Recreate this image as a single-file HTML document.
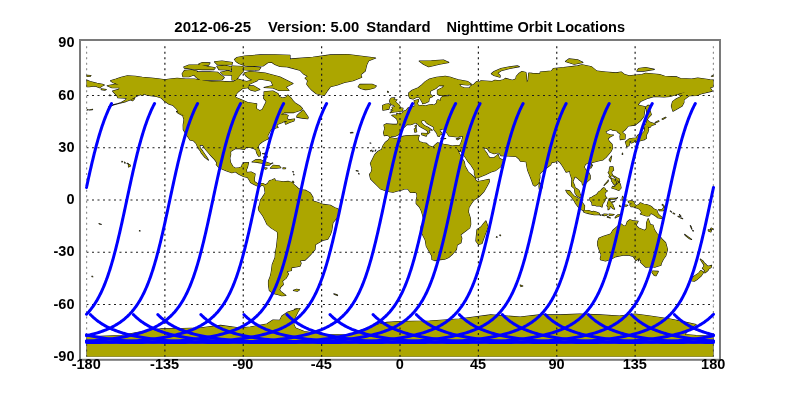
<!DOCTYPE html>
<html><head><meta charset="utf-8"><style>
html,body{margin:0;padding:0;background:#fff;}
svg{display:block;}
text{font-family:"Liberation Sans",sans-serif;font-weight:bold;fill:#000;}
</style></head><body>
<svg width="800" height="400" viewBox="0 0 800 400">
<rect width="800" height="400" fill="#fff"/>
<defs><clipPath id="c"><rect x="86.5" y="43.25" width="627" height="313.5"/></clipPath></defs>
<g clip-path="url(#c)">
<path d="M107.2,85.7 111.9,87.7 119.6,87.7 118.7,89.4 112.6,91.1 117.0,95.8 117.9,97.8 126.6,98.1 125.7,99.9 121.3,102.5 116.1,104.2 113.0,104.9 119.6,103.3 125.7,101.6 130.0,99.9 133.5,97.9 136.1,96.4 140.5,94.6 142.2,95.5 144.0,94.1 147.5,95.2 156.7,96.4 161.4,98.1 164.0,100.7 169.2,104.2 172.7,105.1 177.1,109.4 177.9,112.0 183.2,114.7 182.8,115.7 184.0,119.5 183.2,125.1 183.3,129.6 185.8,133.8 187.7,136.4 190.0,139.9 193.6,140.8 196.1,143.4 198.0,147.8 200.6,151.2 201.3,153.0 204.9,157.3 208.4,160.1 206.8,157.3 205.1,154.7 202.7,151.2 200.1,147.8 199.7,145.0 202.8,145.1 205.6,149.5 208.6,153.0 210.9,155.6 214.7,159.6 216.8,162.6 216.3,164.6 218.3,166.9 221.5,168.7 226.2,170.7 231.9,172.7 235.4,171.8 238.9,174.2 243.6,176.5 247.6,177.4 249.3,180.0 250.6,182.6 253.7,184.3 256.3,185.5 259.8,186.9 261.5,185.2 263.8,185.7 264.5,187.8 265.2,193.0 262.4,197.4 260.5,200.0 259.8,204.4 258.4,207.8 258.9,210.4 262.8,215.7 265.5,220.9 267.1,224.4 271.1,227.9 277.4,231.9 277.7,235.7 277.2,240.9 276.5,247.0 275.5,252.2 275.1,257.5 272.3,264.4 271.6,269.7 271.1,273.1 270.2,276.6 268.5,281.0 268.5,285.3 269.4,290.6 272.9,293.2 276.3,294.1 281.6,295.8 285.9,295.4 280.7,291.4 279.5,289.7 280.7,287.1 283.3,284.5 282.4,281.0 285.9,278.4 288.5,274.0 286.8,271.4 291.5,270.5 291.5,267.6 299.9,266.2 301.1,263.2 299.9,260.8 305.1,260.1 307.7,257.5 311.2,254.0 315.0,249.6 315.5,244.4 323.4,240.1 327.7,239.2 330.3,234.8 331.7,230.5 332.9,222.6 337.3,217.4 339.4,213.9 338.2,209.1 334.7,207.8 330.3,205.2 323.4,204.4 316.4,202.1 312.9,200.9 312.9,197.4 310.3,193.0 305.9,190.4 300.7,189.7 298.1,188.2 294.6,185.2 292.0,182.6 288.5,181.4 283.3,181.7 275.5,180.8 274.6,178.8 272.0,180.0 269.4,180.8 267.6,183.5 265.4,185.0 263.3,183.6 261.5,183.5 258.1,184.0 254.6,181.7 254.2,179.1 255.1,174.0 251.1,172.1 246.7,172.5 246.4,169.5 247.3,167.8 248.5,162.6 244.1,162.9 242.4,164.3 241.5,166.9 238.9,167.8 235.4,168.3 232.8,166.6 230.5,162.6 229.8,158.2 230.7,154.7 230.5,151.6 235.4,148.6 239.8,148.6 244.5,149.5 245.9,147.2 250.2,147.4 252.8,148.1 256.0,149.8 256.7,153.0 258.6,156.1 260.1,155.9 260.5,153.0 258.9,149.5 258.2,146.9 259.1,144.3 262.4,141.7 266.6,139.6 268.5,138.7 267.6,135.9 268.2,134.7 269.5,132.2 271.1,129.5 274.6,128.6 276.3,127.7 278.1,127.4 276.7,126.0 277.7,124.2 282.4,122.5 283.7,121.6 287.7,120.8 285.1,122.5 285.6,124.2 289.4,122.5 293.8,121.1 294.6,119.0 288.5,119.9 286.8,118.1 288.2,115.5 285.1,114.3 280.7,114.7 284.2,112.6 293.8,112.6 300.7,110.3 302.5,108.6 299.9,106.0 295.5,103.3 292.9,100.7 291.1,98.1 287.7,95.0 285.9,97.2 282.4,98.1 279.0,96.4 278.1,93.8 272.9,91.1 264.1,91.7 264.1,94.6 263.6,98.1 266.4,101.6 265.0,104.2 262.4,109.4 259.8,110.7 256.3,108.6 256.7,103.9 247.6,102.5 242.4,100.2 235.8,97.6 235.1,95.5 238.0,92.0 242.4,88.5 247.6,87.7 249.3,84.2 257.2,80.7 256.3,79.0 246.7,81.6 243.2,80.7 238.0,79.0 233.7,81.6 229.3,81.9 220.6,81.2 211.9,81.6 203.2,80.7 194.5,79.0 185.8,79.0 177.1,78.3 170.1,79.0 164.9,79.8 157.9,78.8 150.9,78.1 142.2,77.2 135.3,76.3 127.4,75.8 121.3,77.2 116.1,79.0 110.5,80.7 112.6,82.4 115.2,83.3 118.7,84.7 114.9,84.2ZM326.0,92.9 327.7,90.3 330.3,86.8 337.3,85.0 344.3,82.4 353.0,80.7 361.7,77.2 360.8,74.6 365.2,71.1 366.0,67.6 366.9,64.2 368.6,60.7 375.6,58.1 361.7,56.3 347.8,54.6 330.3,54.9 312.9,57.2 292.0,58.9 283.3,60.7 273.7,63.3 278.1,65.0 290.3,67.6 299.9,70.2 303.3,73.7 307.7,76.3 305.1,78.1 307.7,80.7 306.8,84.2 309.4,87.7 312.0,90.3 316.4,93.8 324.2,95.5ZM255.4,91.1 259.8,89.4 253.7,85.9 248.5,85.9 248.5,88.5 251.1,90.3ZM307.7,118.8 308.2,117.3 305.9,113.8 303.3,110.1 299.9,112.9 297.2,115.5 296.7,117.1 302.5,118.1ZM253.4,161.9 258.9,162.6 263.3,163.4 265.0,165.3 269.4,165.2 270.8,163.8 265.0,161.7 259.8,159.6 255.4,159.9 252.1,162.0ZM270.4,168.1 276.3,168.3 280.9,167.8 279.0,165.7 273.2,165.3ZM263.5,168.3 265.9,169.2 267.1,168.1 263.6,167.8ZM283.0,168.7 285.2,168.7 285.7,168.0 283.0,167.8ZM184.9,115.7 176.5,111.5 177.9,112.9 182.6,115.4ZM386.9,135.2 388.3,135.7 390.2,137.3 392.2,136.1 395.6,136.1 398.3,134.7 399.8,132.9 399.5,131.2 401.2,129.5 403.8,127.7 405.4,126.0 407.0,124.4 410.4,124.8 413.1,123.9 414.8,122.7 416.5,123.2 417.9,124.2 419.5,126.3 422.6,128.1 424.4,128.9 426.1,130.0 427.9,131.2 427.3,133.5 428.0,133.8 429.8,132.2 428.7,131.2 429.6,129.8 432.2,130.3 430.0,128.8 427.9,127.2 424.6,125.8 421.9,123.4 421.4,122.0 421.8,120.4 423.9,120.4 425.3,121.1 426.1,122.5 428.4,124.2 431.9,126.0 434.0,127.2 433.8,129.5 435.2,131.2 436.9,133.3 437.6,135.9 439.2,136.4 440.1,134.7 441.8,134.2 441.8,132.9 439.9,131.2 439.7,129.3 440.9,129.8 442.7,128.8 446.2,129.5 445.6,131.2 447.5,133.8 448.8,135.9 453.1,136.4 458.3,137.0 460.3,136.1 462.7,135.9 462.5,138.2 461.8,140.8 460.8,143.4 459.6,145.7 456.1,145.5 452.2,146.0 447.9,145.1 443.5,144.3 440.1,143.4 437.4,142.9 434.8,145.1 433.1,147.2 428.9,145.7 426.5,143.4 423.0,142.7 419.5,141.7 418.3,139.9 418.5,137.3 419.2,135.6 417.1,135.4 411.3,135.6 406.1,135.9 402.6,136.4 399.1,137.8 395.6,138.7 389.7,137.6 388.5,139.9 385.2,142.5 382.9,146.0 381.7,149.5 378.2,151.2 374.7,154.7 373.0,158.2 370.4,163.4 372.0,168.7 371.3,172.1 369.5,174.4 370.7,179.1 374.2,182.6 376.8,185.2 380.3,188.7 386.9,191.3 393.0,192.2 396.5,191.3 401.7,189.9 404.4,188.9 407.8,189.0 410.4,192.5 414.8,192.3 416.7,193.0 417.1,196.5 416.2,200.0 416.2,203.5 419.5,207.0 421.2,210.4 422.8,215.7 423.9,220.9 421.2,226.1 420.6,230.5 423.5,236.6 425.3,240.1 426.3,246.2 428.7,250.5 431.7,255.7 432.0,259.6 434.8,260.6 440.1,259.6 444.6,259.2 448.6,257.5 452.6,254.0 456.4,249.6 457.1,244.9 461.0,242.7 461.8,238.3 460.6,234.8 465.3,231.3 469.7,227.9 470.7,224.4 470.4,218.3 468.4,212.2 468.8,207.8 471.4,203.5 474.0,200.0 479.2,196.5 484.1,191.3 487.1,186.1 489.3,181.7 489.2,179.4 483.6,180.5 477.5,181.7 475.4,180.0 475.2,178.2 471.4,174.7 468.3,172.1 465.0,166.0 464.3,161.7 462.0,158.2 459.0,153.0 456.6,147.9 459.6,151.6 459.9,151.2 460.8,148.6 461.0,151.2 462.2,153.0 465.3,157.3 468.1,161.7 471.1,165.2 474.4,170.4 474.4,173.9 475.8,177.9 478.4,177.4 485.3,174.7 490.9,172.1 495.8,170.4 500.5,166.9 501.9,164.3 504.2,160.8 499.3,158.2 498.1,154.4 496.7,155.6 494.1,157.7 489.9,157.9 488.0,155.6 486.7,153.0 483.6,149.0 484.5,147.8 487.4,148.6 489.7,152.1 494.1,153.8 497.9,152.8 499.1,153.0 501.0,155.6 508.0,155.9 516.2,156.5 519.1,159.1 520.5,161.2 526.3,161.7 526.4,163.4 526.8,166.0 527.7,170.4 529.8,175.6 531.8,180.8 533.2,184.7 535.0,186.1 537.9,184.0 539.0,182.1 539.9,177.4 539.7,173.9 541.4,172.1 545.4,168.7 550.7,164.8 551.5,162.6 555.0,162.0 557.6,160.6 560.2,162.6 562.0,165.2 564.2,168.7 566.0,172.1 569.8,171.3 570.2,173.9 571.9,179.1 571.6,183.5 571.6,186.1 574.5,188.7 575.0,193.0 576.8,195.6 580.3,197.7 581.5,197.4 580.1,193.9 579.0,190.4 576.8,188.7 575.0,187.8 574.5,185.2 572.8,181.7 574.2,178.2 575.0,176.5 577.6,178.2 579.4,180.0 582.0,182.1 582.5,185.0 585.5,183.5 587.2,181.7 590.2,179.1 590.2,175.6 588.4,172.1 585.5,169.5 584.1,166.9 585.5,164.3 588.6,162.6 591.8,164.6 591.2,162.7 594.2,162.0 598.9,160.8 602.9,159.9 606.0,157.3 608.3,154.7 611.1,151.2 612.7,147.8 612.3,146.4 612.1,144.3 609.5,141.7 607.8,139.0 609.5,137.3 613.5,135.0 610.2,134.7 606.9,133.8 605.5,131.7 610.7,128.9 612.5,130.3 616.8,130.7 617.7,132.1 620.5,134.3 620.0,136.4 620.3,139.6 625.0,139.0 625.2,134.7 622.1,132.1 625.5,129.5 628.2,126.0 635.1,125.1 640.4,120.8 643.8,116.4 644.7,110.3 645.1,106.8 637.7,105.1 640.4,101.6 648.2,98.1 654.3,96.4 663.9,96.9 670.0,96.4 678.7,93.8 685.6,92.0 678.7,94.6 681.3,96.4 676.1,99.0 672.6,101.6 671.4,106.0 672.9,111.2 676.1,109.4 682.1,106.0 683.9,102.5 683.9,99.9 689.1,95.8 696.6,95.5 701.3,93.8 712.3,91.1 710.0,87.7 713.5,86.8 713.5,80.0 710.0,79.8 697.8,78.1 691.7,79.0 680.4,78.6 676.9,76.9 664.7,76.3 659.5,74.6 645.6,73.2 642.1,74.6 629.0,75.8 624.7,74.6 621.2,72.0 616.0,72.9 605.5,72.0 596.8,71.1 591.6,66.8 582.0,64.7 577.6,65.9 563.7,67.6 553.3,68.5 551.5,71.1 540.2,72.0 540.2,73.7 532.4,73.4 528.7,73.0 528.4,77.2 528.2,80.2 526.8,82.4 526.4,75.5 525.9,72.5 521.9,71.5 519.3,73.2 516.3,76.3 515.8,79.0 512.3,80.3 505.4,78.4 503.6,79.8 499.3,80.7 494.9,80.2 492.3,81.6 481.0,80.7 479.2,82.3 476.6,81.6 474.0,84.2 470.5,85.9 469.7,88.0 464.1,87.7 461.0,86.8 459.2,84.2 467.9,85.0 471.4,84.2 467.9,81.6 458.3,79.8 454.0,78.4 450.5,77.2 445.3,76.3 436.6,77.2 429.6,79.0 425.3,81.6 421.8,85.0 418.3,87.7 412.2,90.3 408.7,92.9 408.7,95.5 409.8,98.1 413.1,99.0 416.5,97.2 419.2,97.2 420.4,99.3 422.1,101.9 422.6,103.5 424.9,103.3 428.7,101.6 429.3,98.1 432.7,96.4 430.0,93.8 430.5,91.1 435.7,88.5 439.2,85.4 444.4,85.6 442.3,87.7 437.4,90.3 437.4,94.1 440.1,95.5 445.3,95.2 449.6,94.6 448.8,96.2 442.7,96.4 440.9,98.1 440.6,100.7 438.0,99.7 436.9,100.7 436.7,103.0 434.0,105.3 432.2,104.6 428.7,105.1 425.3,106.0 422.6,105.3 419.2,106.0 418.3,105.1 417.1,103.2 418.3,101.6 418.5,99.5 414.1,100.7 415.0,104.2 415.2,106.0 412.2,107.0 408.4,107.7 406.1,110.3 403.5,111.2 402.6,112.9 399.1,114.0 396.7,113.4 397.4,115.4 394.8,115.0 391.8,115.4 394.8,117.3 396.9,119.0 397.9,122.5 396.9,124.4 393.0,124.4 386.1,123.9 384.0,125.1 384.8,128.6 383.5,132.6 384.3,135.6ZM86.5,86.8 89.1,86.8 95.2,85.9 99.6,87.7 102.2,85.9 104.3,85.0 102.2,84.2 96.9,83.3 90.0,81.6 86.5,80.0ZM390.1,112.7 393.9,111.9 398.3,111.5 402.4,111.0 402.6,109.8 403.0,108.2 400.5,107.7 399.1,105.1 396.5,102.8 395.3,101.6 396.9,99.7 393.4,99.5 394.8,97.9 391.3,98.1 389.9,99.9 389.6,101.6 390.4,103.3 391.3,104.6 393.9,105.1 394.8,106.8 392.0,107.2 392.9,108.9 390.9,110.0 393.9,110.3 392.5,110.8ZM382.9,110.3 388.9,109.1 389.4,106.8 390.4,105.3 388.7,103.7 385.5,104.2 382.6,105.6 382.6,107.7ZM368.6,89.4 374.7,87.7 376.3,85.9 372.1,84.2 359.9,84.4 358.2,86.8 360.8,88.5 365.2,89.6ZM439.2,64.2 448.8,62.4 443.5,60.1 431.4,60.7 419.2,61.0 423.5,64.2 428.7,66.8ZM500.1,75.5 497.5,73.2 501.0,70.8 509.7,68.5 519.3,66.6 517.6,65.9 509.7,66.8 501.0,68.5 494.1,71.5 491.4,73.7 494.1,75.5 500.1,77.2ZM582.9,62.4 577.6,59.8 568.9,58.9 565.5,61.5 574.2,64.2ZM643.8,71.1 654.3,69.4 645.6,67.6 638.6,68.5 636.9,71.1ZM647.0,119.9 648.7,117.3 651.3,114.7 649.9,110.3 649.4,105.4 647.7,105.4 645.6,107.2 646.4,109.4 647.0,116.4ZM644.4,127.6 646.2,126.0 649.9,127.4 651.6,125.4 655.5,124.3 653.1,123.2 649.4,121.9 647.0,119.7 646.6,122.1 645.7,124.7 643.8,124.7 642.5,126.9 643.1,128.7ZM627.8,141.9 630.7,141.0 633.2,140.4 634.5,141.2 636.0,142.7 636.4,141.0 638.5,141.2 641.0,140.4 642.2,140.2 644.5,139.6 646.4,138.3 646.2,136.2 646.8,133.9 647.9,132.1 648.7,129.1 647.9,127.0 646.8,126.0 645.4,126.6 644.7,128.7 644.3,131.4 642.4,133.3 641.2,135.4 639.3,135.8 639.1,134.6 637.8,135.2 636.8,136.9 636.0,138.1 633.2,138.3 629.5,138.7 627.2,140.4 625.7,141.7ZM626.6,146.6 628.9,145.7 629.7,143.4 629.5,141.3 628.3,140.5 627.0,141.1 625.4,142.0 625.8,143.2 626.6,145.5ZM609.2,159.9 610.4,161.7 611.6,156.1ZM589.1,166.9 590.7,168.1 592.5,165.2ZM609.4,168.8 609.2,171.4 608.2,172.4 609.6,174.8 610.0,176.4 611.8,175.6 613.6,176.4 614.6,177.6 616.8,178.8 615.8,177.0 613.0,175.8 611.6,173.4 611.8,171.6 613.6,170.0 613.0,166.9 610.0,166.7ZM617.4,184.0 615.6,185.6 615.0,187.0 612.6,186.4 611.8,188.0 616.0,189.2 618.9,190.4 621.1,188.0 620.3,184.0 618.9,182.4ZM607.3,181.7 605.3,183.8 604.1,185.4 608.0,181.7 608.3,180.1ZM603.6,187.8 602.4,188.7 600.8,190.6 598.5,192.0 596.8,194.4 593.8,196.0 591.9,197.2 589.8,197.9 590.0,200.3 591.8,202.3 592.1,205.1 594.7,205.2 596.8,205.9 599.4,205.7 602.0,207.1 602.4,205.1 602.9,203.3 604.5,201.4 605.5,198.3 606.9,198.1 605.3,196.2 604.8,194.1 605.3,192.5 607.4,190.9 605.5,189.9 604.8,188.2ZM566.9,192.3 568.6,194.4 571.2,196.5 572.8,199.0 574.5,201.2 575.6,203.5 577.6,206.1 579.7,208.4 582.2,210.1 584.3,210.3 584.6,205.9 583.2,203.7 581.8,201.7 579.7,199.1 576.6,197.2 574.3,196.3 571.9,193.6 569.8,190.9 565.8,190.2ZM583.4,211.8 585.5,212.7 589.0,213.6 594.2,214.8 599.2,214.5 599.2,213.2 596.1,212.0 593.3,211.3 592.5,212.0 588.6,210.6 584.6,210.3ZM616.3,198.4 614.2,198.3 610.9,198.3 609.2,198.6 608.7,200.0 607.8,202.6 607.3,204.7 606.9,205.6 608.1,207.0 608.1,209.8 609.7,208.5 609.9,205.9 611.6,207.0 612.5,208.5 614.6,209.1 613.5,206.8 612.8,204.7 611.4,203.1 612.0,201.7 614.7,201.6 611.6,202.6 610.2,201.6 609.0,200.0 609.3,199.1 613.4,199.1 616.7,198.4 617.5,197.6ZM628.5,202.4 629.7,203.1 632.5,204.0 629.9,204.5 630.2,205.7 631.3,206.8 632.7,206.6 635.1,207.5 638.3,208.4 640.7,210.4 641.7,212.9 640.4,213.9 642.1,214.6 645.6,215.7 647.3,216.0 649.6,215.8 649.9,213.9 651.7,213.6 654.5,215.2 656.4,216.5 657.8,217.8 661.2,218.5 662.6,217.9 660.0,215.8 658.1,213.9 657.4,212.0 656.9,210.3 653.9,209.1 651.8,207.0 649.9,205.7 646.4,204.5 643.8,204.2 640.2,202.8 639.1,204.4 636.0,205.7 634.3,203.8 633.6,201.6 630.8,200.7 628.2,201.4ZM621.7,214.5 617.7,214.8 616.0,216.5 615.1,217.9 616.8,217.1 619.5,215.7ZM539.0,186.1 539.3,189.2 541.4,189.6 542.5,186.1 539.7,182.9ZM483.6,223.5 481.0,227.0 477.0,229.6 476.3,236.6 475.9,240.9 478.4,244.4 481.9,243.5 485.0,234.8 488.0,227.0 485.9,220.9ZM421.8,134.7 426.3,136.1 427.2,133.5 421.6,133.3ZM414.3,128.9 414.8,132.2 416.7,131.7 416.0,128.2ZM415.0,126.0 416.0,127.9 416.4,125.1ZM442.7,139.0 445.8,138.5 440.9,138.2ZM456.3,138.9 457.5,139.7 460.3,138.0ZM646.6,222.6 646.4,228.7 644.7,230.5 638.6,227.9 636.0,225.3 638.1,221.2 633.4,220.9 629.9,219.7 627.3,221.8 625.9,225.8 623.8,226.1 621.2,224.0 618.6,225.3 615.1,228.4 612.8,230.5 610.7,234.0 602.9,236.6 598.9,238.3 597.7,241.8 597.7,245.3 599.1,249.6 601.2,254.9 600.3,258.3 600.5,259.7 605.5,261.0 610.7,259.2 616.0,256.6 622.9,255.2 628.2,254.9 633.4,256.6 636.0,260.6 640.0,257.5 638.3,261.0 639.5,259.2 641.2,261.0 640.4,262.2 643.8,265.3 645.6,267.1 652.0,266.7 655.2,267.1 660.9,265.3 661.2,263.6 663.3,259.2 665.8,255.7 667.5,249.6 666.6,246.2 665.6,242.7 662.1,239.2 660.0,236.6 656.9,233.6 654.3,229.6 653.1,225.3 650.3,224.4 648.2,218.6ZM652.0,272.3 654.3,275.4 656.0,275.8 658.3,271.4 652.5,271.1ZM701.4,260.9 702.8,263.1 703.8,264.6 704.0,266.6 702.4,268.1 703.4,269.3 704.9,270.5 704.0,272.6 705.1,272.8 707.9,270.5 708.8,268.9 711.0,267.5 711.6,265.4 708.6,266.2 706.9,265.6 705.7,264.2 704.3,262.9 702.6,260.7 700.3,259.1ZM698.7,273.1 692.3,277.5 690.0,280.5 694.3,281.2 697.5,279.2 701.3,275.8 703.6,272.3 700.8,270.5ZM713.5,356.8 713.5,336.4 696.1,335.5 684.8,334.6 689.1,328.9 696.1,324.5 683.9,321.9 670.0,319.0 649.9,316.0 635.1,314.1 619.5,316.0 600.3,314.9 579.4,314.1 560.2,314.9 539.3,314.9 520.2,317.0 490.6,314.9 459.2,319.0 429.6,321.0 400.0,321.6 386.9,322.4 374.9,325.1 362.0,329.9 350.0,335.0 325.1,334.5 304.2,331.5 295.5,328.0 293.8,324.5 294.6,318.4 298.1,311.5 300.0,308.5 288.0,312.0 281.9,316.0 279.8,320.2 273.0,320.0 266.9,324.0 250.2,327.0 239.8,328.0 220.6,325.4 199.7,328.0 182.3,328.5 161.4,328.9 142.2,331.5 121.3,335.5 86.5,336.9 86.5,356.8ZM599.4,214.6 600.6,215.3 599.6,214.1ZM602.0,215.2 602.9,215.5 602.2,214.5ZM604.1,215.8 606.7,215.3 607.3,214.3 603.8,214.1ZM609.3,215.5 612.5,215.3 614.1,214.5 609.0,214.1ZM607.3,217.1 610.4,217.9 607.6,216.5ZM623.8,205.9 626.4,206.1 627.8,205.2 622.9,204.9ZM619.5,206.3 621.0,206.8 619.5,205.4ZM622.1,198.3 623.3,201.4 624.0,199.1 622.6,196.2ZM609.0,176.6 610.8,178.7 611.9,179.3 609.6,175.7ZM617.3,180.3 619.7,181.8 619.1,178.8 615.2,177.3ZM616.1,179.6 617.2,182.9 618.4,183.5 616.7,179.1ZM611.7,181.4 613.5,182.5 615.3,179.6 612.0,178.7ZM612.7,182.6 614.5,185.2 615.4,182.6 614.2,179.9ZM614.2,183.4 616.3,184.0 616.3,179.3ZM631.5,142.9 633.7,142.0 634.6,141.1 634.4,140.3 631.5,141.0 630.8,142.5ZM662.1,209.6 658.6,209.6 659.5,210.8 663.0,210.8 665.1,209.1 663.9,207.3ZM662.1,204.9 664.7,207.3 665.8,207.8 662.6,204.4ZM678.3,216.7 680.1,217.1 678.0,216.2ZM680.1,215.7 680.9,216.2 679.5,214.5ZM670.3,211.0 671.7,212.2 670.8,211.3ZM673.1,213.4 674.8,213.9 673.4,213.1ZM680.9,218.3 682.7,218.8 681.5,218.1ZM690.3,225.7 691.9,229.2 691.2,226.9ZM692.6,230.7 693.5,231.0 692.9,230.5ZM685.5,235.6 689.6,238.8 691.6,239.5 684.7,234.4ZM708.5,231.1 710.8,232.0 711.5,230.4 708.2,229.9ZM710.5,229.0 713.8,229.4 711.2,228.0ZM128.5,164.8 128.5,166.9 130.4,166.0 129.7,164.6ZM127.1,163.4 128.3,164.1 128.3,163.6ZM124.5,162.9 125.3,162.9 124.5,162.2ZM121.9,161.9 122.6,161.7 121.9,161.3ZM92.6,109.3 89.1,110.0 92.1,109.8ZM111.2,105.8 108.8,106.6 110.9,106.1 113.5,104.9ZM87.4,109.6 86.7,110.1 88.2,109.8ZM101.7,89.8 104.8,90.3 106.2,89.6 101.0,88.9ZM109.8,95.8 111.1,95.5 109.5,95.0ZM133.0,99.0 130.7,100.0 132.7,100.7 134.6,98.6ZM263.6,157.7 265.0,158.2 264.1,156.5ZM262.6,153.7 264.5,153.8 262.8,153.5ZM264.8,154.2 265.5,154.7 265.0,153.1ZM266.8,156.3 267.5,157.0 266.4,155.6ZM271.8,163.3 271.6,163.6 272.7,163.1ZM292.7,171.6 293.2,172.1 293.4,171.8ZM293.6,174.2 293.8,174.9 294.1,174.6ZM292.2,182.4 293.8,182.4 292.9,181.2ZM370.6,150.5 370.9,151.2 371.8,150.2ZM372.5,151.2 372.8,151.6 373.2,150.9ZM375.8,150.0 375.1,151.1 375.6,150.5ZM370.0,143.0 370.9,143.2 370.2,142.9ZM352.3,132.4 350.4,132.9 353.0,132.8ZM356.1,170.7 358.2,171.1 356.5,170.6ZM358.5,173.7 359.2,174.0 358.7,173.4ZM293.4,290.4 297.2,291.3 299.5,289.7 296.4,289.2ZM334.7,294.6 337.6,295.6 337.3,294.9 333.8,293.9ZM521.0,286.6 522.8,285.9 520.2,285.0ZM499.8,235.5 500.7,235.7 500.1,234.8ZM496.3,237.3 497.2,237.1 496.7,236.6ZM99.4,224.0 101.3,224.4 99.0,223.5ZM139.4,231.0 140.1,231.0 139.6,230.5ZM91.9,276.6 92.9,276.8 92.1,276.1ZM298.1,309.0 296.9,308.5 294.1,309.4ZM183.0,76.8 189.0,76.8 195.0,74.5 197.2,71.1 191.2,70.0 184.5,70.4 182.2,73.8ZM196.5,77.5 201.0,80.5 211.5,80.1 222.0,79.8 224.2,77.5 217.5,72.2 210.0,71.9 197.2,71.9 192.8,73.8ZM184.5,68.1 195.0,69.2 202.5,69.6 213.8,69.6 215.2,67.8 206.2,66.2 198.8,64.8 189.0,65.1 183.8,67.0ZM201.0,65.5 208.5,65.1 210.0,62.9 202.5,62.5 198.8,64.0ZM217.5,64.8 231.8,64.8 232.5,62.5 222.0,61.0 214.5,61.8ZM219.0,69.6 231.0,70.0 231.8,67.0 225.0,65.5 216.8,66.2ZM223.5,74.9 232.5,75.2 232.5,72.2 228.0,70.8 220.5,72.2ZM236.0,61.5 239.0,63.5 245.0,65.7 252.0,66.0 263.0,66.0 268.0,62.5 275.0,62.0 290.0,60.5 290.0,55.2 275.0,54.8 260.0,54.9 245.0,56.0 237.0,57.5 234.5,59.5ZM232.0,80.0 236.0,80.0 240.0,75.0 243.5,71.0 243.0,66.5 232.0,66.0ZM275.0,64.5 280.0,66.5 290.0,67.0 290.0,60.0 280.0,61.0 272.0,62.5ZM244.0,69.8 250.0,70.2 259.0,70.0 260.8,67.5 252.0,66.8 243.5,67.2ZM246.0,76.0 250.0,79.0 255.0,81.0 260.0,79.0 271.0,81.0 273.0,85.5 264.0,87.5 273.0,88.0 279.0,90.5 289.0,90.5 286.0,87.0 293.0,83.5 280.0,77.0 265.0,73.0 250.0,71.5 244.0,73.0ZM655.7,122.8 659.0,121.3 658.6,120.8 655.2,122.5ZM662.6,119.4 666.0,117.6 665.6,117.3 662.1,119.0ZM622.4,153.1 622.2,154.5 622.8,154.0ZM86.5,76.5 90.3,76.3 90.9,75.5 86.5,75.3ZM711.4,76.2 713.5,76.5 713.5,75.3ZM387.8,92.4 388.5,92.0 387.5,91.3Z" fill="none" stroke="#111" stroke-width="1.1" stroke-linejoin="round"/>
<path d="M107.2,85.7 111.9,87.7 119.6,87.7 118.7,89.4 112.6,91.1 117.0,95.8 117.9,97.8 126.6,98.1 125.7,99.9 121.3,102.5 116.1,104.2 113.0,104.9 119.6,103.3 125.7,101.6 130.0,99.9 133.5,97.9 136.1,96.4 140.5,94.6 142.2,95.5 144.0,94.1 147.5,95.2 156.7,96.4 161.4,98.1 164.0,100.7 169.2,104.2 172.7,105.1 177.1,109.4 177.9,112.0 183.2,114.7 182.8,115.7 184.0,119.5 183.2,125.1 183.3,129.6 185.8,133.8 187.7,136.4 190.0,139.9 193.6,140.8 196.1,143.4 198.0,147.8 200.6,151.2 201.3,153.0 204.9,157.3 208.4,160.1 206.8,157.3 205.1,154.7 202.7,151.2 200.1,147.8 199.7,145.0 202.8,145.1 205.6,149.5 208.6,153.0 210.9,155.6 214.7,159.6 216.8,162.6 216.3,164.6 218.3,166.9 221.5,168.7 226.2,170.7 231.9,172.7 235.4,171.8 238.9,174.2 243.6,176.5 247.6,177.4 249.3,180.0 250.6,182.6 253.7,184.3 256.3,185.5 259.8,186.9 261.5,185.2 263.8,185.7 264.5,187.8 265.2,193.0 262.4,197.4 260.5,200.0 259.8,204.4 258.4,207.8 258.9,210.4 262.8,215.7 265.5,220.9 267.1,224.4 271.1,227.9 277.4,231.9 277.7,235.7 277.2,240.9 276.5,247.0 275.5,252.2 275.1,257.5 272.3,264.4 271.6,269.7 271.1,273.1 270.2,276.6 268.5,281.0 268.5,285.3 269.4,290.6 272.9,293.2 276.3,294.1 281.6,295.8 285.9,295.4 280.7,291.4 279.5,289.7 280.7,287.1 283.3,284.5 282.4,281.0 285.9,278.4 288.5,274.0 286.8,271.4 291.5,270.5 291.5,267.6 299.9,266.2 301.1,263.2 299.9,260.8 305.1,260.1 307.7,257.5 311.2,254.0 315.0,249.6 315.5,244.4 323.4,240.1 327.7,239.2 330.3,234.8 331.7,230.5 332.9,222.6 337.3,217.4 339.4,213.9 338.2,209.1 334.7,207.8 330.3,205.2 323.4,204.4 316.4,202.1 312.9,200.9 312.9,197.4 310.3,193.0 305.9,190.4 300.7,189.7 298.1,188.2 294.6,185.2 292.0,182.6 288.5,181.4 283.3,181.7 275.5,180.8 274.6,178.8 272.0,180.0 269.4,180.8 267.6,183.5 265.4,185.0 263.3,183.6 261.5,183.5 258.1,184.0 254.6,181.7 254.2,179.1 255.1,174.0 251.1,172.1 246.7,172.5 246.4,169.5 247.3,167.8 248.5,162.6 244.1,162.9 242.4,164.3 241.5,166.9 238.9,167.8 235.4,168.3 232.8,166.6 230.5,162.6 229.8,158.2 230.7,154.7 230.5,151.6 235.4,148.6 239.8,148.6 244.5,149.5 245.9,147.2 250.2,147.4 252.8,148.1 256.0,149.8 256.7,153.0 258.6,156.1 260.1,155.9 260.5,153.0 258.9,149.5 258.2,146.9 259.1,144.3 262.4,141.7 266.6,139.6 268.5,138.7 267.6,135.9 268.2,134.7 269.5,132.2 271.1,129.5 274.6,128.6 276.3,127.7 278.1,127.4 276.7,126.0 277.7,124.2 282.4,122.5 283.7,121.6 287.7,120.8 285.1,122.5 285.6,124.2 289.4,122.5 293.8,121.1 294.6,119.0 288.5,119.9 286.8,118.1 288.2,115.5 285.1,114.3 280.7,114.7 284.2,112.6 293.8,112.6 300.7,110.3 302.5,108.6 299.9,106.0 295.5,103.3 292.9,100.7 291.1,98.1 287.7,95.0 285.9,97.2 282.4,98.1 279.0,96.4 278.1,93.8 272.9,91.1 264.1,91.7 264.1,94.6 263.6,98.1 266.4,101.6 265.0,104.2 262.4,109.4 259.8,110.7 256.3,108.6 256.7,103.9 247.6,102.5 242.4,100.2 235.8,97.6 235.1,95.5 238.0,92.0 242.4,88.5 247.6,87.7 249.3,84.2 257.2,80.7 256.3,79.0 246.7,81.6 243.2,80.7 238.0,79.0 233.7,81.6 229.3,81.9 220.6,81.2 211.9,81.6 203.2,80.7 194.5,79.0 185.8,79.0 177.1,78.3 170.1,79.0 164.9,79.8 157.9,78.8 150.9,78.1 142.2,77.2 135.3,76.3 127.4,75.8 121.3,77.2 116.1,79.0 110.5,80.7 112.6,82.4 115.2,83.3 118.7,84.7 114.9,84.2ZM326.0,92.9 327.7,90.3 330.3,86.8 337.3,85.0 344.3,82.4 353.0,80.7 361.7,77.2 360.8,74.6 365.2,71.1 366.0,67.6 366.9,64.2 368.6,60.7 375.6,58.1 361.7,56.3 347.8,54.6 330.3,54.9 312.9,57.2 292.0,58.9 283.3,60.7 273.7,63.3 278.1,65.0 290.3,67.6 299.9,70.2 303.3,73.7 307.7,76.3 305.1,78.1 307.7,80.7 306.8,84.2 309.4,87.7 312.0,90.3 316.4,93.8 324.2,95.5ZM255.4,91.1 259.8,89.4 253.7,85.9 248.5,85.9 248.5,88.5 251.1,90.3ZM307.7,118.8 308.2,117.3 305.9,113.8 303.3,110.1 299.9,112.9 297.2,115.5 296.7,117.1 302.5,118.1ZM253.4,161.9 258.9,162.6 263.3,163.4 265.0,165.3 269.4,165.2 270.8,163.8 265.0,161.7 259.8,159.6 255.4,159.9 252.1,162.0ZM270.4,168.1 276.3,168.3 280.9,167.8 279.0,165.7 273.2,165.3ZM263.5,168.3 265.9,169.2 267.1,168.1 263.6,167.8ZM283.0,168.7 285.2,168.7 285.7,168.0 283.0,167.8ZM184.9,115.7 176.5,111.5 177.9,112.9 182.6,115.4ZM386.9,135.2 388.3,135.7 390.2,137.3 392.2,136.1 395.6,136.1 398.3,134.7 399.8,132.9 399.5,131.2 401.2,129.5 403.8,127.7 405.4,126.0 407.0,124.4 410.4,124.8 413.1,123.9 414.8,122.7 416.5,123.2 417.9,124.2 419.5,126.3 422.6,128.1 424.4,128.9 426.1,130.0 427.9,131.2 427.3,133.5 428.0,133.8 429.8,132.2 428.7,131.2 429.6,129.8 432.2,130.3 430.0,128.8 427.9,127.2 424.6,125.8 421.9,123.4 421.4,122.0 421.8,120.4 423.9,120.4 425.3,121.1 426.1,122.5 428.4,124.2 431.9,126.0 434.0,127.2 433.8,129.5 435.2,131.2 436.9,133.3 437.6,135.9 439.2,136.4 440.1,134.7 441.8,134.2 441.8,132.9 439.9,131.2 439.7,129.3 440.9,129.8 442.7,128.8 446.2,129.5 445.6,131.2 447.5,133.8 448.8,135.9 453.1,136.4 458.3,137.0 460.3,136.1 462.7,135.9 462.5,138.2 461.8,140.8 460.8,143.4 459.6,145.7 456.1,145.5 452.2,146.0 447.9,145.1 443.5,144.3 440.1,143.4 437.4,142.9 434.8,145.1 433.1,147.2 428.9,145.7 426.5,143.4 423.0,142.7 419.5,141.7 418.3,139.9 418.5,137.3 419.2,135.6 417.1,135.4 411.3,135.6 406.1,135.9 402.6,136.4 399.1,137.8 395.6,138.7 389.7,137.6 388.5,139.9 385.2,142.5 382.9,146.0 381.7,149.5 378.2,151.2 374.7,154.7 373.0,158.2 370.4,163.4 372.0,168.7 371.3,172.1 369.5,174.4 370.7,179.1 374.2,182.6 376.8,185.2 380.3,188.7 386.9,191.3 393.0,192.2 396.5,191.3 401.7,189.9 404.4,188.9 407.8,189.0 410.4,192.5 414.8,192.3 416.7,193.0 417.1,196.5 416.2,200.0 416.2,203.5 419.5,207.0 421.2,210.4 422.8,215.7 423.9,220.9 421.2,226.1 420.6,230.5 423.5,236.6 425.3,240.1 426.3,246.2 428.7,250.5 431.7,255.7 432.0,259.6 434.8,260.6 440.1,259.6 444.6,259.2 448.6,257.5 452.6,254.0 456.4,249.6 457.1,244.9 461.0,242.7 461.8,238.3 460.6,234.8 465.3,231.3 469.7,227.9 470.7,224.4 470.4,218.3 468.4,212.2 468.8,207.8 471.4,203.5 474.0,200.0 479.2,196.5 484.1,191.3 487.1,186.1 489.3,181.7 489.2,179.4 483.6,180.5 477.5,181.7 475.4,180.0 475.2,178.2 471.4,174.7 468.3,172.1 465.0,166.0 464.3,161.7 462.0,158.2 459.0,153.0 456.6,147.9 459.6,151.6 459.9,151.2 460.8,148.6 461.0,151.2 462.2,153.0 465.3,157.3 468.1,161.7 471.1,165.2 474.4,170.4 474.4,173.9 475.8,177.9 478.4,177.4 485.3,174.7 490.9,172.1 495.8,170.4 500.5,166.9 501.9,164.3 504.2,160.8 499.3,158.2 498.1,154.4 496.7,155.6 494.1,157.7 489.9,157.9 488.0,155.6 486.7,153.0 483.6,149.0 484.5,147.8 487.4,148.6 489.7,152.1 494.1,153.8 497.9,152.8 499.1,153.0 501.0,155.6 508.0,155.9 516.2,156.5 519.1,159.1 520.5,161.2 526.3,161.7 526.4,163.4 526.8,166.0 527.7,170.4 529.8,175.6 531.8,180.8 533.2,184.7 535.0,186.1 537.9,184.0 539.0,182.1 539.9,177.4 539.7,173.9 541.4,172.1 545.4,168.7 550.7,164.8 551.5,162.6 555.0,162.0 557.6,160.6 560.2,162.6 562.0,165.2 564.2,168.7 566.0,172.1 569.8,171.3 570.2,173.9 571.9,179.1 571.6,183.5 571.6,186.1 574.5,188.7 575.0,193.0 576.8,195.6 580.3,197.7 581.5,197.4 580.1,193.9 579.0,190.4 576.8,188.7 575.0,187.8 574.5,185.2 572.8,181.7 574.2,178.2 575.0,176.5 577.6,178.2 579.4,180.0 582.0,182.1 582.5,185.0 585.5,183.5 587.2,181.7 590.2,179.1 590.2,175.6 588.4,172.1 585.5,169.5 584.1,166.9 585.5,164.3 588.6,162.6 591.8,164.6 591.2,162.7 594.2,162.0 598.9,160.8 602.9,159.9 606.0,157.3 608.3,154.7 611.1,151.2 612.7,147.8 612.3,146.4 612.1,144.3 609.5,141.7 607.8,139.0 609.5,137.3 613.5,135.0 610.2,134.7 606.9,133.8 605.5,131.7 610.7,128.9 612.5,130.3 616.8,130.7 617.7,132.1 620.5,134.3 620.0,136.4 620.3,139.6 625.0,139.0 625.2,134.7 622.1,132.1 625.5,129.5 628.2,126.0 635.1,125.1 640.4,120.8 643.8,116.4 644.7,110.3 645.1,106.8 637.7,105.1 640.4,101.6 648.2,98.1 654.3,96.4 663.9,96.9 670.0,96.4 678.7,93.8 685.6,92.0 678.7,94.6 681.3,96.4 676.1,99.0 672.6,101.6 671.4,106.0 672.9,111.2 676.1,109.4 682.1,106.0 683.9,102.5 683.9,99.9 689.1,95.8 696.6,95.5 701.3,93.8 712.3,91.1 710.0,87.7 713.5,86.8 713.5,80.0 710.0,79.8 697.8,78.1 691.7,79.0 680.4,78.6 676.9,76.9 664.7,76.3 659.5,74.6 645.6,73.2 642.1,74.6 629.0,75.8 624.7,74.6 621.2,72.0 616.0,72.9 605.5,72.0 596.8,71.1 591.6,66.8 582.0,64.7 577.6,65.9 563.7,67.6 553.3,68.5 551.5,71.1 540.2,72.0 540.2,73.7 532.4,73.4 528.7,73.0 528.4,77.2 528.2,80.2 526.8,82.4 526.4,75.5 525.9,72.5 521.9,71.5 519.3,73.2 516.3,76.3 515.8,79.0 512.3,80.3 505.4,78.4 503.6,79.8 499.3,80.7 494.9,80.2 492.3,81.6 481.0,80.7 479.2,82.3 476.6,81.6 474.0,84.2 470.5,85.9 469.7,88.0 464.1,87.7 461.0,86.8 459.2,84.2 467.9,85.0 471.4,84.2 467.9,81.6 458.3,79.8 454.0,78.4 450.5,77.2 445.3,76.3 436.6,77.2 429.6,79.0 425.3,81.6 421.8,85.0 418.3,87.7 412.2,90.3 408.7,92.9 408.7,95.5 409.8,98.1 413.1,99.0 416.5,97.2 419.2,97.2 420.4,99.3 422.1,101.9 422.6,103.5 424.9,103.3 428.7,101.6 429.3,98.1 432.7,96.4 430.0,93.8 430.5,91.1 435.7,88.5 439.2,85.4 444.4,85.6 442.3,87.7 437.4,90.3 437.4,94.1 440.1,95.5 445.3,95.2 449.6,94.6 448.8,96.2 442.7,96.4 440.9,98.1 440.6,100.7 438.0,99.7 436.9,100.7 436.7,103.0 434.0,105.3 432.2,104.6 428.7,105.1 425.3,106.0 422.6,105.3 419.2,106.0 418.3,105.1 417.1,103.2 418.3,101.6 418.5,99.5 414.1,100.7 415.0,104.2 415.2,106.0 412.2,107.0 408.4,107.7 406.1,110.3 403.5,111.2 402.6,112.9 399.1,114.0 396.7,113.4 397.4,115.4 394.8,115.0 391.8,115.4 394.8,117.3 396.9,119.0 397.9,122.5 396.9,124.4 393.0,124.4 386.1,123.9 384.0,125.1 384.8,128.6 383.5,132.6 384.3,135.6ZM86.5,86.8 89.1,86.8 95.2,85.9 99.6,87.7 102.2,85.9 104.3,85.0 102.2,84.2 96.9,83.3 90.0,81.6 86.5,80.0ZM390.1,112.7 393.9,111.9 398.3,111.5 402.4,111.0 402.6,109.8 403.0,108.2 400.5,107.7 399.1,105.1 396.5,102.8 395.3,101.6 396.9,99.7 393.4,99.5 394.8,97.9 391.3,98.1 389.9,99.9 389.6,101.6 390.4,103.3 391.3,104.6 393.9,105.1 394.8,106.8 392.0,107.2 392.9,108.9 390.9,110.0 393.9,110.3 392.5,110.8ZM382.9,110.3 388.9,109.1 389.4,106.8 390.4,105.3 388.7,103.7 385.5,104.2 382.6,105.6 382.6,107.7ZM368.6,89.4 374.7,87.7 376.3,85.9 372.1,84.2 359.9,84.4 358.2,86.8 360.8,88.5 365.2,89.6ZM439.2,64.2 448.8,62.4 443.5,60.1 431.4,60.7 419.2,61.0 423.5,64.2 428.7,66.8ZM500.1,75.5 497.5,73.2 501.0,70.8 509.7,68.5 519.3,66.6 517.6,65.9 509.7,66.8 501.0,68.5 494.1,71.5 491.4,73.7 494.1,75.5 500.1,77.2ZM582.9,62.4 577.6,59.8 568.9,58.9 565.5,61.5 574.2,64.2ZM643.8,71.1 654.3,69.4 645.6,67.6 638.6,68.5 636.9,71.1ZM647.0,119.9 648.7,117.3 651.3,114.7 649.9,110.3 649.4,105.4 647.7,105.4 645.6,107.2 646.4,109.4 647.0,116.4ZM644.4,127.6 646.2,126.0 649.9,127.4 651.6,125.4 655.5,124.3 653.1,123.2 649.4,121.9 647.0,119.7 646.6,122.1 645.7,124.7 643.8,124.7 642.5,126.9 643.1,128.7ZM627.8,141.9 630.7,141.0 633.2,140.4 634.5,141.2 636.0,142.7 636.4,141.0 638.5,141.2 641.0,140.4 642.2,140.2 644.5,139.6 646.4,138.3 646.2,136.2 646.8,133.9 647.9,132.1 648.7,129.1 647.9,127.0 646.8,126.0 645.4,126.6 644.7,128.7 644.3,131.4 642.4,133.3 641.2,135.4 639.3,135.8 639.1,134.6 637.8,135.2 636.8,136.9 636.0,138.1 633.2,138.3 629.5,138.7 627.2,140.4 625.7,141.7ZM626.6,146.6 628.9,145.7 629.7,143.4 629.5,141.3 628.3,140.5 627.0,141.1 625.4,142.0 625.8,143.2 626.6,145.5ZM609.2,159.9 610.4,161.7 611.6,156.1ZM589.1,166.9 590.7,168.1 592.5,165.2ZM609.4,168.8 609.2,171.4 608.2,172.4 609.6,174.8 610.0,176.4 611.8,175.6 613.6,176.4 614.6,177.6 616.8,178.8 615.8,177.0 613.0,175.8 611.6,173.4 611.8,171.6 613.6,170.0 613.0,166.9 610.0,166.7ZM617.4,184.0 615.6,185.6 615.0,187.0 612.6,186.4 611.8,188.0 616.0,189.2 618.9,190.4 621.1,188.0 620.3,184.0 618.9,182.4ZM607.3,181.7 605.3,183.8 604.1,185.4 608.0,181.7 608.3,180.1ZM603.6,187.8 602.4,188.7 600.8,190.6 598.5,192.0 596.8,194.4 593.8,196.0 591.9,197.2 589.8,197.9 590.0,200.3 591.8,202.3 592.1,205.1 594.7,205.2 596.8,205.9 599.4,205.7 602.0,207.1 602.4,205.1 602.9,203.3 604.5,201.4 605.5,198.3 606.9,198.1 605.3,196.2 604.8,194.1 605.3,192.5 607.4,190.9 605.5,189.9 604.8,188.2ZM566.9,192.3 568.6,194.4 571.2,196.5 572.8,199.0 574.5,201.2 575.6,203.5 577.6,206.1 579.7,208.4 582.2,210.1 584.3,210.3 584.6,205.9 583.2,203.7 581.8,201.7 579.7,199.1 576.6,197.2 574.3,196.3 571.9,193.6 569.8,190.9 565.8,190.2ZM583.4,211.8 585.5,212.7 589.0,213.6 594.2,214.8 599.2,214.5 599.2,213.2 596.1,212.0 593.3,211.3 592.5,212.0 588.6,210.6 584.6,210.3ZM616.3,198.4 614.2,198.3 610.9,198.3 609.2,198.6 608.7,200.0 607.8,202.6 607.3,204.7 606.9,205.6 608.1,207.0 608.1,209.8 609.7,208.5 609.9,205.9 611.6,207.0 612.5,208.5 614.6,209.1 613.5,206.8 612.8,204.7 611.4,203.1 612.0,201.7 614.7,201.6 611.6,202.6 610.2,201.6 609.0,200.0 609.3,199.1 613.4,199.1 616.7,198.4 617.5,197.6ZM628.5,202.4 629.7,203.1 632.5,204.0 629.9,204.5 630.2,205.7 631.3,206.8 632.7,206.6 635.1,207.5 638.3,208.4 640.7,210.4 641.7,212.9 640.4,213.9 642.1,214.6 645.6,215.7 647.3,216.0 649.6,215.8 649.9,213.9 651.7,213.6 654.5,215.2 656.4,216.5 657.8,217.8 661.2,218.5 662.6,217.9 660.0,215.8 658.1,213.9 657.4,212.0 656.9,210.3 653.9,209.1 651.8,207.0 649.9,205.7 646.4,204.5 643.8,204.2 640.2,202.8 639.1,204.4 636.0,205.7 634.3,203.8 633.6,201.6 630.8,200.7 628.2,201.4ZM621.7,214.5 617.7,214.8 616.0,216.5 615.1,217.9 616.8,217.1 619.5,215.7ZM539.0,186.1 539.3,189.2 541.4,189.6 542.5,186.1 539.7,182.9ZM483.6,223.5 481.0,227.0 477.0,229.6 476.3,236.6 475.9,240.9 478.4,244.4 481.9,243.5 485.0,234.8 488.0,227.0 485.9,220.9ZM421.8,134.7 426.3,136.1 427.2,133.5 421.6,133.3ZM414.3,128.9 414.8,132.2 416.7,131.7 416.0,128.2ZM415.0,126.0 416.0,127.9 416.4,125.1ZM442.7,139.0 445.8,138.5 440.9,138.2ZM456.3,138.9 457.5,139.7 460.3,138.0ZM646.6,222.6 646.4,228.7 644.7,230.5 638.6,227.9 636.0,225.3 638.1,221.2 633.4,220.9 629.9,219.7 627.3,221.8 625.9,225.8 623.8,226.1 621.2,224.0 618.6,225.3 615.1,228.4 612.8,230.5 610.7,234.0 602.9,236.6 598.9,238.3 597.7,241.8 597.7,245.3 599.1,249.6 601.2,254.9 600.3,258.3 600.5,259.7 605.5,261.0 610.7,259.2 616.0,256.6 622.9,255.2 628.2,254.9 633.4,256.6 636.0,260.6 640.0,257.5 638.3,261.0 639.5,259.2 641.2,261.0 640.4,262.2 643.8,265.3 645.6,267.1 652.0,266.7 655.2,267.1 660.9,265.3 661.2,263.6 663.3,259.2 665.8,255.7 667.5,249.6 666.6,246.2 665.6,242.7 662.1,239.2 660.0,236.6 656.9,233.6 654.3,229.6 653.1,225.3 650.3,224.4 648.2,218.6ZM652.0,272.3 654.3,275.4 656.0,275.8 658.3,271.4 652.5,271.1ZM701.4,260.9 702.8,263.1 703.8,264.6 704.0,266.6 702.4,268.1 703.4,269.3 704.9,270.5 704.0,272.6 705.1,272.8 707.9,270.5 708.8,268.9 711.0,267.5 711.6,265.4 708.6,266.2 706.9,265.6 705.7,264.2 704.3,262.9 702.6,260.7 700.3,259.1ZM698.7,273.1 692.3,277.5 690.0,280.5 694.3,281.2 697.5,279.2 701.3,275.8 703.6,272.3 700.8,270.5ZM713.5,356.8 713.5,336.4 696.1,335.5 684.8,334.6 689.1,328.9 696.1,324.5 683.9,321.9 670.0,319.0 649.9,316.0 635.1,314.1 619.5,316.0 600.3,314.9 579.4,314.1 560.2,314.9 539.3,314.9 520.2,317.0 490.6,314.9 459.2,319.0 429.6,321.0 400.0,321.6 386.9,322.4 374.9,325.1 362.0,329.9 350.0,335.0 325.1,334.5 304.2,331.5 295.5,328.0 293.8,324.5 294.6,318.4 298.1,311.5 300.0,308.5 288.0,312.0 281.9,316.0 279.8,320.2 273.0,320.0 266.9,324.0 250.2,327.0 239.8,328.0 220.6,325.4 199.7,328.0 182.3,328.5 161.4,328.9 142.2,331.5 121.3,335.5 86.5,336.9 86.5,356.8ZM599.4,214.6 600.6,215.3 599.6,214.1ZM602.0,215.2 602.9,215.5 602.2,214.5ZM604.1,215.8 606.7,215.3 607.3,214.3 603.8,214.1ZM609.3,215.5 612.5,215.3 614.1,214.5 609.0,214.1ZM607.3,217.1 610.4,217.9 607.6,216.5ZM623.8,205.9 626.4,206.1 627.8,205.2 622.9,204.9ZM619.5,206.3 621.0,206.8 619.5,205.4ZM622.1,198.3 623.3,201.4 624.0,199.1 622.6,196.2ZM609.0,176.6 610.8,178.7 611.9,179.3 609.6,175.7ZM617.3,180.3 619.7,181.8 619.1,178.8 615.2,177.3ZM616.1,179.6 617.2,182.9 618.4,183.5 616.7,179.1ZM611.7,181.4 613.5,182.5 615.3,179.6 612.0,178.7ZM612.7,182.6 614.5,185.2 615.4,182.6 614.2,179.9ZM614.2,183.4 616.3,184.0 616.3,179.3ZM631.5,142.9 633.7,142.0 634.6,141.1 634.4,140.3 631.5,141.0 630.8,142.5ZM662.1,209.6 658.6,209.6 659.5,210.8 663.0,210.8 665.1,209.1 663.9,207.3ZM662.1,204.9 664.7,207.3 665.8,207.8 662.6,204.4ZM678.3,216.7 680.1,217.1 678.0,216.2ZM680.1,215.7 680.9,216.2 679.5,214.5ZM670.3,211.0 671.7,212.2 670.8,211.3ZM673.1,213.4 674.8,213.9 673.4,213.1ZM680.9,218.3 682.7,218.8 681.5,218.1ZM690.3,225.7 691.9,229.2 691.2,226.9ZM692.6,230.7 693.5,231.0 692.9,230.5ZM685.5,235.6 689.6,238.8 691.6,239.5 684.7,234.4ZM708.5,231.1 710.8,232.0 711.5,230.4 708.2,229.9ZM710.5,229.0 713.8,229.4 711.2,228.0ZM128.5,164.8 128.5,166.9 130.4,166.0 129.7,164.6ZM127.1,163.4 128.3,164.1 128.3,163.6ZM124.5,162.9 125.3,162.9 124.5,162.2ZM121.9,161.9 122.6,161.7 121.9,161.3ZM92.6,109.3 89.1,110.0 92.1,109.8ZM111.2,105.8 108.8,106.6 110.9,106.1 113.5,104.9ZM87.4,109.6 86.7,110.1 88.2,109.8ZM101.7,89.8 104.8,90.3 106.2,89.6 101.0,88.9ZM109.8,95.8 111.1,95.5 109.5,95.0ZM133.0,99.0 130.7,100.0 132.7,100.7 134.6,98.6ZM263.6,157.7 265.0,158.2 264.1,156.5ZM262.6,153.7 264.5,153.8 262.8,153.5ZM264.8,154.2 265.5,154.7 265.0,153.1ZM266.8,156.3 267.5,157.0 266.4,155.6ZM271.8,163.3 271.6,163.6 272.7,163.1ZM292.7,171.6 293.2,172.1 293.4,171.8ZM293.6,174.2 293.8,174.9 294.1,174.6ZM292.2,182.4 293.8,182.4 292.9,181.2ZM370.6,150.5 370.9,151.2 371.8,150.2ZM372.5,151.2 372.8,151.6 373.2,150.9ZM375.8,150.0 375.1,151.1 375.6,150.5ZM370.0,143.0 370.9,143.2 370.2,142.9ZM352.3,132.4 350.4,132.9 353.0,132.8ZM356.1,170.7 358.2,171.1 356.5,170.6ZM358.5,173.7 359.2,174.0 358.7,173.4ZM293.4,290.4 297.2,291.3 299.5,289.7 296.4,289.2ZM334.7,294.6 337.6,295.6 337.3,294.9 333.8,293.9ZM521.0,286.6 522.8,285.9 520.2,285.0ZM499.8,235.5 500.7,235.7 500.1,234.8ZM496.3,237.3 497.2,237.1 496.7,236.6ZM99.4,224.0 101.3,224.4 99.0,223.5ZM139.4,231.0 140.1,231.0 139.6,230.5ZM91.9,276.6 92.9,276.8 92.1,276.1ZM298.1,309.0 296.9,308.5 294.1,309.4ZM183.0,76.8 189.0,76.8 195.0,74.5 197.2,71.1 191.2,70.0 184.5,70.4 182.2,73.8ZM196.5,77.5 201.0,80.5 211.5,80.1 222.0,79.8 224.2,77.5 217.5,72.2 210.0,71.9 197.2,71.9 192.8,73.8ZM184.5,68.1 195.0,69.2 202.5,69.6 213.8,69.6 215.2,67.8 206.2,66.2 198.8,64.8 189.0,65.1 183.8,67.0ZM201.0,65.5 208.5,65.1 210.0,62.9 202.5,62.5 198.8,64.0ZM217.5,64.8 231.8,64.8 232.5,62.5 222.0,61.0 214.5,61.8ZM219.0,69.6 231.0,70.0 231.8,67.0 225.0,65.5 216.8,66.2ZM223.5,74.9 232.5,75.2 232.5,72.2 228.0,70.8 220.5,72.2ZM236.0,61.5 239.0,63.5 245.0,65.7 252.0,66.0 263.0,66.0 268.0,62.5 275.0,62.0 290.0,60.5 290.0,55.2 275.0,54.8 260.0,54.9 245.0,56.0 237.0,57.5 234.5,59.5ZM232.0,80.0 236.0,80.0 240.0,75.0 243.5,71.0 243.0,66.5 232.0,66.0ZM275.0,64.5 280.0,66.5 290.0,67.0 290.0,60.0 280.0,61.0 272.0,62.5ZM244.0,69.8 250.0,70.2 259.0,70.0 260.8,67.5 252.0,66.8 243.5,67.2ZM246.0,76.0 250.0,79.0 255.0,81.0 260.0,79.0 271.0,81.0 273.0,85.5 264.0,87.5 273.0,88.0 279.0,90.5 289.0,90.5 286.0,87.0 293.0,83.5 280.0,77.0 265.0,73.0 250.0,71.5 244.0,73.0ZM655.7,122.8 659.0,121.3 658.6,120.8 655.2,122.5ZM662.6,119.4 666.0,117.6 665.6,117.3 662.1,119.0ZM622.4,153.1 622.2,154.5 622.8,154.0ZM86.5,76.5 90.3,76.3 90.9,75.5 86.5,75.3ZM711.4,76.2 713.5,76.5 713.5,75.3ZM387.8,92.4 388.5,92.0 387.5,91.3Z" fill="#aca600"/>
<path d="" fill="#fff" stroke="#000" stroke-width="0.5"/>
<g stroke="#1e1e1e" stroke-width="1.2" stroke-dasharray="2 3.5"><line x1="86.5" y1="95.50" x2="714" y2="95.50" /><line x1="86.5" y1="147.75" x2="714" y2="147.75" /><line x1="86.5" y1="200.00" x2="714" y2="200.00" /><line x1="86.5" y1="252.25" x2="714" y2="252.25" /><line x1="86.5" y1="304.50" x2="714" y2="304.50" /></g>
<g stroke="#1e1e1e" stroke-width="1.2" stroke-dasharray="2 3.515"><line x1="86.50" y1="46.25" x2="86.50" y2="357" /><line x1="164.88" y1="46.25" x2="164.88" y2="357" /><line x1="243.25" y1="46.25" x2="243.25" y2="357" /><line x1="321.62" y1="46.25" x2="321.62" y2="357" /><line x1="400.00" y1="46.25" x2="400.00" y2="357" /><line x1="478.38" y1="46.25" x2="478.38" y2="357" /><line x1="556.75" y1="46.25" x2="556.75" y2="357" /><line x1="635.12" y1="46.25" x2="635.12" y2="357" /><line x1="713.50" y1="46.25" x2="713.50" y2="357" /></g>
</g>
<g fill="none" stroke="#0000ff" stroke-width="3" stroke-linecap="round" stroke-linejoin="round"><path d="M111.55,103.51 L111.18,104.23 L110.81,104.94 L110.45,105.66 L110.09,106.37 L109.74,107.09 L109.40,107.81 L109.06,108.52 L108.73,109.24 L108.40,109.96 L108.08,110.68 L107.76,111.40 L107.45,112.12 L107.14,112.84 L106.84,113.56 L106.54,114.28 L106.24,115.00 L105.95,115.72 L105.66,116.44 L105.38,117.16 L105.10,117.88 L104.82,118.60 L104.55,119.33 L104.28,120.05 L104.01,120.77 L103.75,121.49 L103.49,122.22 L103.23,122.94 L102.98,123.66 L102.72,124.39 L102.47,125.11 L102.23,125.84 L101.98,126.56 L101.74,127.29 L101.50,128.01 L101.27,128.73 L101.03,129.46 L100.80,130.18 L100.57,130.91 L100.35,131.64 L100.12,132.36 L99.90,133.09 L99.68,133.81 L99.46,134.54 L99.24,135.27 L99.02,135.99 L98.81,136.72 L98.60,137.44 L98.39,138.17 L98.18,138.90 L97.97,139.63 L97.76,140.35 L97.56,141.08 L97.36,141.81 L97.16,142.53 L96.96,143.26 L96.76,143.99 L96.56,144.72 L96.36,145.44 L96.17,146.17 L95.98,146.90 L95.79,147.63 L95.59,148.36 L95.40,149.09 L95.22,149.81 L95.03,150.54 L94.84,151.27 L94.66,152.00 L94.47,152.73 L94.29,153.46 L94.11,154.19 L93.93,154.91 L93.75,155.64 L93.57,156.37 L93.39,157.10 L93.21,157.83 L93.03,158.56 L92.86,159.29 L92.68,160.02 L92.51,160.75 L92.33,161.48 L92.16,162.21 L91.99,162.94 L91.81,163.66 L91.64,164.39 L91.47,165.12 L91.30,165.85 L91.13,166.58 L90.97,167.31 L90.80,168.04 L90.63,168.77 L90.46,169.50 L90.30,170.23 L90.13,170.96 L89.97,171.69 L89.80,172.42 L89.64,173.15 L89.47,173.88 L89.31,174.61 L89.15,175.34 L88.98,176.07 L88.82,176.80 L88.66,177.53 L88.50,178.26 L88.34,178.99 L88.18,179.72 L88.02,180.45 L87.86,181.18 L87.70,181.92 L87.54,182.65 L87.38,183.38 L87.22,184.11 L87.06,184.84 L86.90,185.57 L86.74,186.30 L86.59,187.03 L86.50,187.42"/><path d="M713.50,187.42 L713.43,187.76 L713.27,188.49 L713.11,189.22 L712.95,189.95 L712.80,190.68 L712.64,191.41 L712.48,192.14 L712.33,192.87 L712.17,193.60 L712.01,194.33 L711.86,195.07 L711.70,195.80 L711.55,196.53 L711.39,197.26 L711.23,197.99 L711.08,198.72 L710.92,199.45 L710.76,200.18 L710.61,200.91 L710.45,201.64 L710.30,202.37 L710.14,203.10 L709.98,203.83 L709.83,204.56 L709.67,205.29 L709.51,206.02 L709.36,206.76 L709.20,207.49 L709.04,208.22 L708.89,208.95 L708.73,209.68 L708.57,210.41 L708.42,211.14 L708.26,211.87 L708.10,212.60 L707.94,213.33 L707.78,214.06 L707.63,214.79 L707.47,215.52 L707.31,216.25 L707.15,216.98 L706.99,217.71 L706.83,218.44 L706.67,219.17 L706.51,219.90 L706.35,220.63 L706.19,221.37 L706.03,222.10 L705.87,222.83 L705.70,223.56 L705.54,224.29 L705.38,225.02 L705.22,225.75 L705.05,226.48 L704.89,227.21 L704.72,227.94 L704.56,228.67 L704.39,229.40 L704.23,230.13 L704.06,230.86 L703.89,231.59 L703.73,232.32 L703.56,233.05 L703.39,233.78 L703.22,234.51 L703.05,235.23 L702.88,235.96 L702.71,236.69 L702.53,237.42 L702.36,238.15 L702.19,238.88 L702.01,239.61 L701.84,240.34 L701.66,241.07 L701.49,241.80 L701.31,242.53 L701.13,243.26 L700.95,243.99 L700.77,244.72 L700.59,245.44 L700.41,246.17 L700.23,246.90 L700.04,247.63 L699.86,248.36 L699.67,249.09 L699.48,249.82 L699.30,250.54 L699.11,251.27 L698.92,252.00 L698.73,252.73 L698.53,253.46 L698.34,254.19 L698.14,254.91 L697.95,255.64 L697.75,256.37 L697.55,257.10 L697.35,257.82 L697.15,258.55 L696.95,259.28 L696.74,260.00 L696.53,260.73 L696.33,261.46 L696.12,262.19 L695.91,262.91 L695.69,263.64 L695.48,264.37 L695.26,265.09 L695.04,265.82 L694.82,266.54 L694.60,267.27 L694.37,268.00 L694.15,268.72 L693.92,269.45 L693.69,270.17 L693.46,270.90 L693.22,271.62 L692.98,272.35 L692.74,273.07 L692.50,273.80 L692.26,274.52 L692.01,275.24 L691.76,275.97 L691.51,276.69 L691.25,277.41 L690.99,278.14 L690.73,278.86 L690.46,279.58 L690.20,280.31 L689.92,281.03 L689.65,281.75 L689.37,282.47 L689.09,283.19 L688.80,283.91 L688.51,284.64 L688.22,285.36 L687.92,286.08 L687.62,286.80 L687.31,287.52 L687.00,288.24 L686.69,288.96 L686.37,289.67 L686.04,290.39 L685.71,291.11 L685.38,291.83 L685.04,292.55 L684.69,293.26 L684.34,293.98 L683.98,294.69 L683.62,295.41 L683.25,296.13 L682.87,296.84 L682.48,297.55 L682.09,298.27 L681.69,298.98 L681.29,299.69 L680.87,300.40 L680.45,301.12 L680.02,301.83 L679.58,302.54 L679.13,303.25 L678.67,303.95 L678.20,304.66 L677.72,305.37 L677.23,306.07 L676.73,306.78 L676.22,307.48 L675.69,308.19 L675.15,308.89 L674.60,309.59 L674.03,310.29 L673.45,310.99 L672.86,311.69 L672.24,312.39 L671.62,313.08 L670.97,313.78 L670.31,314.47 L669.62,315.16 L668.92,315.85 L668.19,316.54 L667.45,317.23 L666.68,317.91 L665.88,318.60 L665.06,319.28 L664.21,319.96 L663.34,320.63 L662.43,321.31 L661.50,321.98 L660.52,322.65 L659.52,323.31 L658.47,323.98 L657.39,324.64 L656.27,325.30 L655.10,325.95 L653.88,326.60 L652.62,327.25 L651.30,327.89 L649.93,328.52 L648.49,329.16 L647.00,329.78 L645.44,330.40 L643.80,331.02 L642.09,331.63 L640.31,332.23 L638.43,332.82 L636.47,333.41 L634.41,333.99 L632.25,334.55 L629.98,335.11 L627.59,335.66 L625.09,336.19 L622.46,336.72 L619.69,337.23 L616.78,337.72 L613.72,338.20 L610.51,338.66 L607.14,339.10 L603.61,339.52 L599.90,339.92 L596.03,340.30 L591.98,340.65 L587.76,340.98 L583.38,341.28 L578.84,341.54 L574.14,341.78 L569.31,341.98 L564.36,342.15 L559.30,342.29 L554.17,342.39 L548.98,342.45 L543.76,342.47 L538.53,342.45 L533.33,342.40 L528.19,342.31 L523.11,342.18 L518.14,342.02 L513.28,341.82 L508.56,341.59 L503.99,341.33 L499.58,341.04 L495.33,340.72 L491.25,340.37 L487.34,340.00 L483.60,339.60 L480.04,339.18 L476.63,338.74 L473.39,338.29 L470.31,337.81 L467.37,337.32 L464.58,336.82 L461.92,336.30 L459.39,335.76 L456.99,335.22 L454.69,334.66 L452.51,334.10 L450.43,333.52 L448.45,332.94 L446.56,332.34 L444.76,331.74 L443.04,331.13 L441.39,330.52 L439.81,329.90 L438.31,329.28 L436.86,328.64 L435.48,328.01 L434.15,327.37 L432.87,326.72 L431.65,326.07 L430.47,325.42 L429.34,324.76 L428.25,324.10 L427.20,323.44 L426.18,322.77 L425.21,322.11 L424.26,321.43 L423.35,320.76 L422.47,320.08 L421.62,319.41 L420.79,318.72 L419.99,318.04 L419.22,317.36 L418.47,316.67 L417.74,315.98 L417.03,315.29 L416.34,314.60"/><path d="M154.56,103.51 L154.19,104.23 L153.82,104.94 L153.46,105.66 L153.10,106.37 L152.75,107.09 L152.41,107.81 L152.07,108.52 L151.74,109.24 L151.41,109.96 L151.09,110.68 L150.77,111.40 L150.46,112.12 L150.15,112.84 L149.85,113.56 L149.55,114.28 L149.25,115.00 L148.96,115.72 L148.67,116.44 L148.39,117.16 L148.11,117.88 L147.83,118.60 L147.56,119.33 L147.29,120.05 L147.02,120.77 L146.76,121.49 L146.50,122.22 L146.24,122.94 L145.99,123.66 L145.73,124.39 L145.48,125.11 L145.24,125.84 L144.99,126.56 L144.75,127.29 L144.51,128.01 L144.28,128.73 L144.04,129.46 L143.81,130.18 L143.58,130.91 L143.36,131.64 L143.13,132.36 L142.91,133.09 L142.69,133.81 L142.47,134.54 L142.25,135.27 L142.03,135.99 L141.82,136.72 L141.61,137.44 L141.40,138.17 L141.19,138.90 L140.98,139.63 L140.77,140.35 L140.57,141.08 L140.37,141.81 L140.17,142.53 L139.97,143.26 L139.77,143.99 L139.57,144.72 L139.37,145.44 L139.18,146.17 L138.99,146.90 L138.80,147.63 L138.60,148.36 L138.41,149.09 L138.23,149.81 L138.04,150.54 L137.85,151.27 L137.67,152.00 L137.48,152.73 L137.30,153.46 L137.12,154.19 L136.94,154.91 L136.76,155.64 L136.58,156.37 L136.40,157.10 L136.22,157.83 L136.04,158.56 L135.87,159.29 L135.69,160.02 L135.52,160.75 L135.34,161.48 L135.17,162.21 L135.00,162.94 L134.82,163.66 L134.65,164.39 L134.48,165.12 L134.31,165.85 L134.14,166.58 L133.98,167.31 L133.81,168.04 L133.64,168.77 L133.47,169.50 L133.31,170.23 L133.14,170.96 L132.98,171.69 L132.81,172.42 L132.65,173.15 L132.48,173.88 L132.32,174.61 L132.16,175.34 L131.99,176.07 L131.83,176.80 L131.67,177.53 L131.51,178.26 L131.35,178.99 L131.19,179.72 L131.03,180.45 L130.87,181.18 L130.71,181.92 L130.55,182.65 L130.39,183.38 L130.23,184.11 L130.07,184.84 L129.91,185.57 L129.75,186.30 L129.60,187.03 L129.44,187.76 L129.28,188.49 L129.12,189.22 L128.96,189.95 L128.81,190.68 L128.65,191.41 L128.49,192.14 L128.34,192.87 L128.18,193.60 L128.02,194.33 L127.87,195.07 L127.71,195.80 L127.56,196.53 L127.40,197.26 L127.24,197.99 L127.09,198.72 L126.93,199.45 L126.77,200.18 L126.62,200.91 L126.46,201.64 L126.31,202.37 L126.15,203.10 L125.99,203.83 L125.84,204.56 L125.68,205.29 L125.52,206.02 L125.37,206.76 L125.21,207.49 L125.05,208.22 L124.90,208.95 L124.74,209.68 L124.58,210.41 L124.43,211.14 L124.27,211.87 L124.11,212.60 L123.95,213.33 L123.79,214.06 L123.64,214.79 L123.48,215.52 L123.32,216.25 L123.16,216.98 L123.00,217.71 L122.84,218.44 L122.68,219.17 L122.52,219.90 L122.36,220.63 L122.20,221.37 L122.04,222.10 L121.88,222.83 L121.71,223.56 L121.55,224.29 L121.39,225.02 L121.23,225.75 L121.06,226.48 L120.90,227.21 L120.73,227.94 L120.57,228.67 L120.40,229.40 L120.24,230.13 L120.07,230.86 L119.90,231.59 L119.74,232.32 L119.57,233.05 L119.40,233.78 L119.23,234.51 L119.06,235.23 L118.89,235.96 L118.72,236.69 L118.54,237.42 L118.37,238.15 L118.20,238.88 L118.02,239.61 L117.85,240.34 L117.67,241.07 L117.50,241.80 L117.32,242.53 L117.14,243.26 L116.96,243.99 L116.78,244.72 L116.60,245.44 L116.42,246.17 L116.24,246.90 L116.05,247.63 L115.87,248.36 L115.68,249.09 L115.49,249.82 L115.31,250.54 L115.12,251.27 L114.93,252.00 L114.74,252.73 L114.54,253.46 L114.35,254.19 L114.15,254.91 L113.96,255.64 L113.76,256.37 L113.56,257.10 L113.36,257.82 L113.16,258.55 L112.96,259.28 L112.75,260.00 L112.54,260.73 L112.34,261.46 L112.13,262.19 L111.92,262.91 L111.70,263.64 L111.49,264.37 L111.27,265.09 L111.05,265.82 L110.83,266.54 L110.61,267.27 L110.38,268.00 L110.16,268.72 L109.93,269.45 L109.70,270.17 L109.47,270.90 L109.23,271.62 L108.99,272.35 L108.75,273.07 L108.51,273.80 L108.27,274.52 L108.02,275.24 L107.77,275.97 L107.52,276.69 L107.26,277.41 L107.00,278.14 L106.74,278.86 L106.47,279.58 L106.21,280.31 L105.93,281.03 L105.66,281.75 L105.38,282.47 L105.10,283.19 L104.81,283.91 L104.52,284.64 L104.23,285.36 L103.93,286.08 L103.63,286.80 L103.32,287.52 L103.01,288.24 L102.70,288.96 L102.38,289.67 L102.05,290.39 L101.72,291.11 L101.39,291.83 L101.05,292.55 L100.70,293.26 L100.35,293.98 L99.99,294.69 L99.63,295.41 L99.26,296.13 L98.88,296.84 L98.49,297.55 L98.10,298.27 L97.70,298.98 L97.30,299.69 L96.88,300.40 L96.46,301.12 L96.03,301.83 L95.59,302.54 L95.14,303.25 L94.68,303.95 L94.21,304.66 L93.73,305.37 L93.24,306.07 L92.74,306.78 L92.23,307.48 L91.70,308.19 L91.16,308.89 L90.61,309.59 L90.04,310.29 L89.46,310.99 L88.87,311.69 L88.25,312.39 L87.63,313.08 L86.98,313.78 L86.50,314.28"/><path d="M713.50,314.28 L713.32,314.47 L712.63,315.16 L711.93,315.85 L711.20,316.54 L710.46,317.23 L709.69,317.91 L708.89,318.60 L708.07,319.28 L707.22,319.96 L706.35,320.63 L705.44,321.31 L704.51,321.98 L703.53,322.65 L702.53,323.31 L701.48,323.98 L700.40,324.64 L699.28,325.30 L698.11,325.95 L696.89,326.60 L695.63,327.25 L694.31,327.89 L692.94,328.52 L691.50,329.16 L690.01,329.78 L688.45,330.40 L686.81,331.02 L685.10,331.63 L683.32,332.23 L681.44,332.82 L679.48,333.41 L677.42,333.99 L675.26,334.55 L672.99,335.11 L670.60,335.66 L668.10,336.19 L665.47,336.72 L662.70,337.23 L659.79,337.72 L656.73,338.20 L653.52,338.66 L650.15,339.10 L646.62,339.52 L642.91,339.92 L639.04,340.30 L634.99,340.65 L630.77,340.98 L626.39,341.28 L621.85,341.54 L617.15,341.78 L612.32,341.98 L607.37,342.15 L602.31,342.29 L597.18,342.39 L591.99,342.45 L586.77,342.47 L581.54,342.45 L576.34,342.40 L571.20,342.31 L566.12,342.18 L561.15,342.02 L556.29,341.82 L551.57,341.59 L547.00,341.33 L542.59,341.04 L538.34,340.72 L534.26,340.37 L530.35,340.00 L526.61,339.60 L523.05,339.18 L519.64,338.74 L516.40,338.29 L513.32,337.81 L510.38,337.32 L507.59,336.82 L504.93,336.30 L502.40,335.76 L500.00,335.22 L497.70,334.66 L495.52,334.10 L493.44,333.52 L491.46,332.94 L489.57,332.34 L487.77,331.74 L486.05,331.13 L484.40,330.52 L482.82,329.90 L481.32,329.28 L479.87,328.64 L478.49,328.01 L477.16,327.37 L475.88,326.72 L474.66,326.07 L473.48,325.42 L472.35,324.76 L471.26,324.10 L470.21,323.44 L469.19,322.77 L468.22,322.11 L467.27,321.43 L466.36,320.76 L465.48,320.08 L464.63,319.41 L463.80,318.72 L463.00,318.04 L462.23,317.36 L461.48,316.67 L460.75,315.98 L460.04,315.29 L459.35,314.60"/><path d="M197.57,103.51 L197.20,104.23 L196.83,104.94 L196.47,105.66 L196.11,106.37 L195.76,107.09 L195.42,107.81 L195.08,108.52 L194.75,109.24 L194.42,109.96 L194.10,110.68 L193.78,111.40 L193.47,112.12 L193.16,112.84 L192.86,113.56 L192.56,114.28 L192.26,115.00 L191.97,115.72 L191.68,116.44 L191.40,117.16 L191.12,117.88 L190.84,118.60 L190.57,119.33 L190.30,120.05 L190.03,120.77 L189.77,121.49 L189.51,122.22 L189.25,122.94 L189.00,123.66 L188.74,124.39 L188.49,125.11 L188.25,125.84 L188.00,126.56 L187.76,127.29 L187.52,128.01 L187.29,128.73 L187.05,129.46 L186.82,130.18 L186.59,130.91 L186.37,131.64 L186.14,132.36 L185.92,133.09 L185.70,133.81 L185.48,134.54 L185.26,135.27 L185.04,135.99 L184.83,136.72 L184.62,137.44 L184.41,138.17 L184.20,138.90 L183.99,139.63 L183.78,140.35 L183.58,141.08 L183.38,141.81 L183.18,142.53 L182.98,143.26 L182.78,143.99 L182.58,144.72 L182.38,145.44 L182.19,146.17 L182.00,146.90 L181.81,147.63 L181.61,148.36 L181.42,149.09 L181.24,149.81 L181.05,150.54 L180.86,151.27 L180.68,152.00 L180.49,152.73 L180.31,153.46 L180.13,154.19 L179.95,154.91 L179.77,155.64 L179.59,156.37 L179.41,157.10 L179.23,157.83 L179.05,158.56 L178.88,159.29 L178.70,160.02 L178.53,160.75 L178.35,161.48 L178.18,162.21 L178.01,162.94 L177.83,163.66 L177.66,164.39 L177.49,165.12 L177.32,165.85 L177.15,166.58 L176.99,167.31 L176.82,168.04 L176.65,168.77 L176.48,169.50 L176.32,170.23 L176.15,170.96 L175.99,171.69 L175.82,172.42 L175.66,173.15 L175.49,173.88 L175.33,174.61 L175.17,175.34 L175.00,176.07 L174.84,176.80 L174.68,177.53 L174.52,178.26 L174.36,178.99 L174.20,179.72 L174.04,180.45 L173.88,181.18 L173.72,181.92 L173.56,182.65 L173.40,183.38 L173.24,184.11 L173.08,184.84 L172.92,185.57 L172.76,186.30 L172.61,187.03 L172.45,187.76 L172.29,188.49 L172.13,189.22 L171.97,189.95 L171.82,190.68 L171.66,191.41 L171.50,192.14 L171.35,192.87 L171.19,193.60 L171.03,194.33 L170.88,195.07 L170.72,195.80 L170.57,196.53 L170.41,197.26 L170.25,197.99 L170.10,198.72 L169.94,199.45 L169.78,200.18 L169.63,200.91 L169.47,201.64 L169.32,202.37 L169.16,203.10 L169.00,203.83 L168.85,204.56 L168.69,205.29 L168.53,206.02 L168.38,206.76 L168.22,207.49 L168.06,208.22 L167.91,208.95 L167.75,209.68 L167.59,210.41 L167.44,211.14 L167.28,211.87 L167.12,212.60 L166.96,213.33 L166.80,214.06 L166.65,214.79 L166.49,215.52 L166.33,216.25 L166.17,216.98 L166.01,217.71 L165.85,218.44 L165.69,219.17 L165.53,219.90 L165.37,220.63 L165.21,221.37 L165.05,222.10 L164.89,222.83 L164.72,223.56 L164.56,224.29 L164.40,225.02 L164.24,225.75 L164.07,226.48 L163.91,227.21 L163.74,227.94 L163.58,228.67 L163.41,229.40 L163.25,230.13 L163.08,230.86 L162.91,231.59 L162.75,232.32 L162.58,233.05 L162.41,233.78 L162.24,234.51 L162.07,235.23 L161.90,235.96 L161.73,236.69 L161.55,237.42 L161.38,238.15 L161.21,238.88 L161.03,239.61 L160.86,240.34 L160.68,241.07 L160.51,241.80 L160.33,242.53 L160.15,243.26 L159.97,243.99 L159.79,244.72 L159.61,245.44 L159.43,246.17 L159.25,246.90 L159.06,247.63 L158.88,248.36 L158.69,249.09 L158.50,249.82 L158.32,250.54 L158.13,251.27 L157.94,252.00 L157.75,252.73 L157.55,253.46 L157.36,254.19 L157.16,254.91 L156.97,255.64 L156.77,256.37 L156.57,257.10 L156.37,257.82 L156.17,258.55 L155.97,259.28 L155.76,260.00 L155.55,260.73 L155.35,261.46 L155.14,262.19 L154.93,262.91 L154.71,263.64 L154.50,264.37 L154.28,265.09 L154.06,265.82 L153.84,266.54 L153.62,267.27 L153.39,268.00 L153.17,268.72 L152.94,269.45 L152.71,270.17 L152.48,270.90 L152.24,271.62 L152.00,272.35 L151.76,273.07 L151.52,273.80 L151.28,274.52 L151.03,275.24 L150.78,275.97 L150.53,276.69 L150.27,277.41 L150.01,278.14 L149.75,278.86 L149.48,279.58 L149.22,280.31 L148.94,281.03 L148.67,281.75 L148.39,282.47 L148.11,283.19 L147.82,283.91 L147.53,284.64 L147.24,285.36 L146.94,286.08 L146.64,286.80 L146.33,287.52 L146.02,288.24 L145.71,288.96 L145.39,289.67 L145.06,290.39 L144.73,291.11 L144.40,291.83 L144.06,292.55 L143.71,293.26 L143.36,293.98 L143.00,294.69 L142.64,295.41 L142.27,296.13 L141.89,296.84 L141.50,297.55 L141.11,298.27 L140.71,298.98 L140.31,299.69 L139.89,300.40 L139.47,301.12 L139.04,301.83 L138.60,302.54 L138.15,303.25 L137.69,303.95 L137.22,304.66 L136.74,305.37 L136.25,306.07 L135.75,306.78 L135.24,307.48 L134.71,308.19 L134.17,308.89 L133.62,309.59 L133.05,310.29 L132.47,310.99 L131.88,311.69 L131.26,312.39 L130.64,313.08 L129.99,313.78 L129.33,314.47 L128.64,315.16 L127.94,315.85 L127.21,316.54 L126.47,317.23 L125.70,317.91 L124.90,318.60 L124.08,319.28 L123.23,319.96 L122.36,320.63 L121.45,321.31 L120.52,321.98 L119.54,322.65 L118.54,323.31 L117.49,323.98 L116.41,324.64 L115.29,325.30 L114.12,325.95 L112.90,326.60 L111.64,327.25 L110.32,327.89 L108.95,328.52 L107.51,329.16 L106.02,329.78 L104.46,330.40 L102.82,331.02 L101.11,331.63 L99.33,332.23 L97.45,332.82 L95.49,333.41 L93.43,333.99 L91.27,334.55 L89.00,335.11 L86.61,335.66 L86.50,335.68"/><path d="M713.50,335.68 L711.11,336.19 L708.48,336.72 L705.71,337.23 L702.80,337.72 L699.74,338.20 L696.53,338.66 L693.16,339.10 L689.63,339.52 L685.92,339.92 L682.05,340.30 L678.00,340.65 L673.78,340.98 L669.40,341.28 L664.86,341.54 L660.16,341.78 L655.33,341.98 L650.38,342.15 L645.32,342.29 L640.19,342.39 L635.00,342.45 L629.78,342.47 L624.55,342.45 L619.35,342.40 L614.21,342.31 L609.13,342.18 L604.16,342.02 L599.30,341.82 L594.58,341.59 L590.01,341.33 L585.60,341.04 L581.35,340.72 L577.27,340.37 L573.36,340.00 L569.62,339.60 L566.06,339.18 L562.65,338.74 L559.41,338.29 L556.33,337.81 L553.39,337.32 L550.60,336.82 L547.94,336.30 L545.41,335.76 L543.01,335.22 L540.71,334.66 L538.53,334.10 L536.45,333.52 L534.47,332.94 L532.58,332.34 L530.78,331.74 L529.06,331.13 L527.41,330.52 L525.83,329.90 L524.33,329.28 L522.88,328.64 L521.50,328.01 L520.17,327.37 L518.89,326.72 L517.67,326.07 L516.49,325.42 L515.36,324.76 L514.27,324.10 L513.22,323.44 L512.20,322.77 L511.23,322.11 L510.28,321.43 L509.37,320.76 L508.49,320.08 L507.64,319.41 L506.81,318.72 L506.01,318.04 L505.24,317.36 L504.49,316.67 L503.76,315.98 L503.05,315.29 L502.36,314.60"/><path d="M240.58,103.51 L240.21,104.23 L239.84,104.94 L239.48,105.66 L239.12,106.37 L238.77,107.09 L238.43,107.81 L238.09,108.52 L237.76,109.24 L237.43,109.96 L237.11,110.68 L236.79,111.40 L236.48,112.12 L236.17,112.84 L235.87,113.56 L235.57,114.28 L235.27,115.00 L234.98,115.72 L234.69,116.44 L234.41,117.16 L234.13,117.88 L233.85,118.60 L233.58,119.33 L233.31,120.05 L233.04,120.77 L232.78,121.49 L232.52,122.22 L232.26,122.94 L232.01,123.66 L231.75,124.39 L231.50,125.11 L231.26,125.84 L231.01,126.56 L230.77,127.29 L230.53,128.01 L230.30,128.73 L230.06,129.46 L229.83,130.18 L229.60,130.91 L229.38,131.64 L229.15,132.36 L228.93,133.09 L228.71,133.81 L228.49,134.54 L228.27,135.27 L228.05,135.99 L227.84,136.72 L227.63,137.44 L227.42,138.17 L227.21,138.90 L227.00,139.63 L226.79,140.35 L226.59,141.08 L226.39,141.81 L226.19,142.53 L225.99,143.26 L225.79,143.99 L225.59,144.72 L225.39,145.44 L225.20,146.17 L225.01,146.90 L224.82,147.63 L224.62,148.36 L224.43,149.09 L224.25,149.81 L224.06,150.54 L223.87,151.27 L223.69,152.00 L223.50,152.73 L223.32,153.46 L223.14,154.19 L222.96,154.91 L222.78,155.64 L222.60,156.37 L222.42,157.10 L222.24,157.83 L222.06,158.56 L221.89,159.29 L221.71,160.02 L221.54,160.75 L221.36,161.48 L221.19,162.21 L221.02,162.94 L220.84,163.66 L220.67,164.39 L220.50,165.12 L220.33,165.85 L220.16,166.58 L220.00,167.31 L219.83,168.04 L219.66,168.77 L219.49,169.50 L219.33,170.23 L219.16,170.96 L219.00,171.69 L218.83,172.42 L218.67,173.15 L218.50,173.88 L218.34,174.61 L218.18,175.34 L218.01,176.07 L217.85,176.80 L217.69,177.53 L217.53,178.26 L217.37,178.99 L217.21,179.72 L217.05,180.45 L216.89,181.18 L216.73,181.92 L216.57,182.65 L216.41,183.38 L216.25,184.11 L216.09,184.84 L215.93,185.57 L215.77,186.30 L215.62,187.03 L215.46,187.76 L215.30,188.49 L215.14,189.22 L214.98,189.95 L214.83,190.68 L214.67,191.41 L214.51,192.14 L214.36,192.87 L214.20,193.60 L214.04,194.33 L213.89,195.07 L213.73,195.80 L213.58,196.53 L213.42,197.26 L213.26,197.99 L213.11,198.72 L212.95,199.45 L212.79,200.18 L212.64,200.91 L212.48,201.64 L212.33,202.37 L212.17,203.10 L212.01,203.83 L211.86,204.56 L211.70,205.29 L211.54,206.02 L211.39,206.76 L211.23,207.49 L211.07,208.22 L210.92,208.95 L210.76,209.68 L210.60,210.41 L210.45,211.14 L210.29,211.87 L210.13,212.60 L209.97,213.33 L209.81,214.06 L209.66,214.79 L209.50,215.52 L209.34,216.25 L209.18,216.98 L209.02,217.71 L208.86,218.44 L208.70,219.17 L208.54,219.90 L208.38,220.63 L208.22,221.37 L208.06,222.10 L207.90,222.83 L207.73,223.56 L207.57,224.29 L207.41,225.02 L207.25,225.75 L207.08,226.48 L206.92,227.21 L206.75,227.94 L206.59,228.67 L206.42,229.40 L206.26,230.13 L206.09,230.86 L205.92,231.59 L205.76,232.32 L205.59,233.05 L205.42,233.78 L205.25,234.51 L205.08,235.23 L204.91,235.96 L204.74,236.69 L204.56,237.42 L204.39,238.15 L204.22,238.88 L204.04,239.61 L203.87,240.34 L203.69,241.07 L203.52,241.80 L203.34,242.53 L203.16,243.26 L202.98,243.99 L202.80,244.72 L202.62,245.44 L202.44,246.17 L202.26,246.90 L202.07,247.63 L201.89,248.36 L201.70,249.09 L201.51,249.82 L201.33,250.54 L201.14,251.27 L200.95,252.00 L200.76,252.73 L200.56,253.46 L200.37,254.19 L200.17,254.91 L199.98,255.64 L199.78,256.37 L199.58,257.10 L199.38,257.82 L199.18,258.55 L198.98,259.28 L198.77,260.00 L198.56,260.73 L198.36,261.46 L198.15,262.19 L197.94,262.91 L197.72,263.64 L197.51,264.37 L197.29,265.09 L197.07,265.82 L196.85,266.54 L196.63,267.27 L196.40,268.00 L196.18,268.72 L195.95,269.45 L195.72,270.17 L195.49,270.90 L195.25,271.62 L195.01,272.35 L194.77,273.07 L194.53,273.80 L194.29,274.52 L194.04,275.24 L193.79,275.97 L193.54,276.69 L193.28,277.41 L193.02,278.14 L192.76,278.86 L192.49,279.58 L192.23,280.31 L191.95,281.03 L191.68,281.75 L191.40,282.47 L191.12,283.19 L190.83,283.91 L190.54,284.64 L190.25,285.36 L189.95,286.08 L189.65,286.80 L189.34,287.52 L189.03,288.24 L188.72,288.96 L188.40,289.67 L188.07,290.39 L187.74,291.11 L187.41,291.83 L187.07,292.55 L186.72,293.26 L186.37,293.98 L186.01,294.69 L185.65,295.41 L185.28,296.13 L184.90,296.84 L184.51,297.55 L184.12,298.27 L183.72,298.98 L183.32,299.69 L182.90,300.40 L182.48,301.12 L182.05,301.83 L181.61,302.54 L181.16,303.25 L180.70,303.95 L180.23,304.66 L179.75,305.37 L179.26,306.07 L178.76,306.78 L178.25,307.48 L177.72,308.19 L177.18,308.89 L176.63,309.59 L176.06,310.29 L175.48,310.99 L174.89,311.69 L174.27,312.39 L173.65,313.08 L173.00,313.78 L172.34,314.47 L171.65,315.16 L170.95,315.85 L170.22,316.54 L169.48,317.23 L168.71,317.91 L167.91,318.60 L167.09,319.28 L166.24,319.96 L165.37,320.63 L164.46,321.31 L163.53,321.98 L162.55,322.65 L161.55,323.31 L160.50,323.98 L159.42,324.64 L158.30,325.30 L157.13,325.95 L155.91,326.60 L154.65,327.25 L153.33,327.89 L151.96,328.52 L150.52,329.16 L149.03,329.78 L147.47,330.40 L145.83,331.02 L144.12,331.63 L142.34,332.23 L140.46,332.82 L138.50,333.41 L136.44,333.99 L134.28,334.55 L132.01,335.11 L129.62,335.66 L127.12,336.19 L124.49,336.72 L121.72,337.23 L118.81,337.72 L115.75,338.20 L112.54,338.66 L109.17,339.10 L105.64,339.52 L101.93,339.92 L98.06,340.30 L94.01,340.65 L89.79,340.98 L86.50,341.20"/><path d="M713.50,341.20 L712.41,341.28 L707.87,341.54 L703.17,341.78 L698.34,341.98 L693.39,342.15 L688.33,342.29 L683.20,342.39 L678.01,342.45 L672.79,342.47 L667.56,342.45 L662.36,342.40 L657.22,342.31 L652.14,342.18 L647.17,342.02 L642.31,341.82 L637.59,341.59 L633.02,341.33 L628.61,341.04 L624.36,340.72 L620.28,340.37 L616.37,340.00 L612.63,339.60 L609.07,339.18 L605.66,338.74 L602.42,338.29 L599.34,337.81 L596.40,337.32 L593.61,336.82 L590.95,336.30 L588.42,335.76 L586.02,335.22 L583.72,334.66 L581.54,334.10 L579.46,333.52 L577.48,332.94 L575.59,332.34 L573.79,331.74 L572.07,331.13 L570.42,330.52 L568.84,329.90 L567.34,329.28 L565.89,328.64 L564.51,328.01 L563.18,327.37 L561.90,326.72 L560.68,326.07 L559.50,325.42 L558.37,324.76 L557.28,324.10 L556.23,323.44 L555.21,322.77 L554.24,322.11 L553.29,321.43 L552.38,320.76 L551.50,320.08 L550.65,319.41 L549.82,318.72 L549.02,318.04 L548.25,317.36 L547.50,316.67 L546.77,315.98 L546.06,315.29 L545.37,314.60"/><path d="M283.59,103.51 L283.22,104.23 L282.85,104.94 L282.49,105.66 L282.13,106.37 L281.78,107.09 L281.44,107.81 L281.10,108.52 L280.77,109.24 L280.44,109.96 L280.12,110.68 L279.80,111.40 L279.49,112.12 L279.18,112.84 L278.88,113.56 L278.58,114.28 L278.28,115.00 L277.99,115.72 L277.70,116.44 L277.42,117.16 L277.14,117.88 L276.86,118.60 L276.59,119.33 L276.32,120.05 L276.05,120.77 L275.79,121.49 L275.53,122.22 L275.27,122.94 L275.02,123.66 L274.76,124.39 L274.51,125.11 L274.27,125.84 L274.02,126.56 L273.78,127.29 L273.54,128.01 L273.31,128.73 L273.07,129.46 L272.84,130.18 L272.61,130.91 L272.39,131.64 L272.16,132.36 L271.94,133.09 L271.72,133.81 L271.50,134.54 L271.28,135.27 L271.06,135.99 L270.85,136.72 L270.64,137.44 L270.43,138.17 L270.22,138.90 L270.01,139.63 L269.80,140.35 L269.60,141.08 L269.40,141.81 L269.20,142.53 L269.00,143.26 L268.80,143.99 L268.60,144.72 L268.40,145.44 L268.21,146.17 L268.02,146.90 L267.83,147.63 L267.63,148.36 L267.44,149.09 L267.26,149.81 L267.07,150.54 L266.88,151.27 L266.70,152.00 L266.51,152.73 L266.33,153.46 L266.15,154.19 L265.97,154.91 L265.79,155.64 L265.61,156.37 L265.43,157.10 L265.25,157.83 L265.07,158.56 L264.90,159.29 L264.72,160.02 L264.55,160.75 L264.37,161.48 L264.20,162.21 L264.03,162.94 L263.85,163.66 L263.68,164.39 L263.51,165.12 L263.34,165.85 L263.17,166.58 L263.01,167.31 L262.84,168.04 L262.67,168.77 L262.50,169.50 L262.34,170.23 L262.17,170.96 L262.01,171.69 L261.84,172.42 L261.68,173.15 L261.51,173.88 L261.35,174.61 L261.19,175.34 L261.02,176.07 L260.86,176.80 L260.70,177.53 L260.54,178.26 L260.38,178.99 L260.22,179.72 L260.06,180.45 L259.90,181.18 L259.74,181.92 L259.58,182.65 L259.42,183.38 L259.26,184.11 L259.10,184.84 L258.94,185.57 L258.78,186.30 L258.63,187.03 L258.47,187.76 L258.31,188.49 L258.15,189.22 L257.99,189.95 L257.84,190.68 L257.68,191.41 L257.52,192.14 L257.37,192.87 L257.21,193.60 L257.05,194.33 L256.90,195.07 L256.74,195.80 L256.59,196.53 L256.43,197.26 L256.27,197.99 L256.12,198.72 L255.96,199.45 L255.80,200.18 L255.65,200.91 L255.49,201.64 L255.34,202.37 L255.18,203.10 L255.02,203.83 L254.87,204.56 L254.71,205.29 L254.55,206.02 L254.40,206.76 L254.24,207.49 L254.08,208.22 L253.93,208.95 L253.77,209.68 L253.61,210.41 L253.46,211.14 L253.30,211.87 L253.14,212.60 L252.98,213.33 L252.82,214.06 L252.67,214.79 L252.51,215.52 L252.35,216.25 L252.19,216.98 L252.03,217.71 L251.87,218.44 L251.71,219.17 L251.55,219.90 L251.39,220.63 L251.23,221.37 L251.07,222.10 L250.91,222.83 L250.74,223.56 L250.58,224.29 L250.42,225.02 L250.26,225.75 L250.09,226.48 L249.93,227.21 L249.76,227.94 L249.60,228.67 L249.43,229.40 L249.27,230.13 L249.10,230.86 L248.93,231.59 L248.77,232.32 L248.60,233.05 L248.43,233.78 L248.26,234.51 L248.09,235.23 L247.92,235.96 L247.75,236.69 L247.57,237.42 L247.40,238.15 L247.23,238.88 L247.05,239.61 L246.88,240.34 L246.70,241.07 L246.53,241.80 L246.35,242.53 L246.17,243.26 L245.99,243.99 L245.81,244.72 L245.63,245.44 L245.45,246.17 L245.27,246.90 L245.08,247.63 L244.90,248.36 L244.71,249.09 L244.52,249.82 L244.34,250.54 L244.15,251.27 L243.96,252.00 L243.77,252.73 L243.57,253.46 L243.38,254.19 L243.18,254.91 L242.99,255.64 L242.79,256.37 L242.59,257.10 L242.39,257.82 L242.19,258.55 L241.99,259.28 L241.78,260.00 L241.57,260.73 L241.37,261.46 L241.16,262.19 L240.95,262.91 L240.73,263.64 L240.52,264.37 L240.30,265.09 L240.08,265.82 L239.86,266.54 L239.64,267.27 L239.41,268.00 L239.19,268.72 L238.96,269.45 L238.73,270.17 L238.50,270.90 L238.26,271.62 L238.02,272.35 L237.78,273.07 L237.54,273.80 L237.30,274.52 L237.05,275.24 L236.80,275.97 L236.55,276.69 L236.29,277.41 L236.03,278.14 L235.77,278.86 L235.50,279.58 L235.24,280.31 L234.96,281.03 L234.69,281.75 L234.41,282.47 L234.13,283.19 L233.84,283.91 L233.55,284.64 L233.26,285.36 L232.96,286.08 L232.66,286.80 L232.35,287.52 L232.04,288.24 L231.73,288.96 L231.41,289.67 L231.08,290.39 L230.75,291.11 L230.42,291.83 L230.08,292.55 L229.73,293.26 L229.38,293.98 L229.02,294.69 L228.66,295.41 L228.29,296.13 L227.91,296.84 L227.52,297.55 L227.13,298.27 L226.73,298.98 L226.33,299.69 L225.91,300.40 L225.49,301.12 L225.06,301.83 L224.62,302.54 L224.17,303.25 L223.71,303.95 L223.24,304.66 L222.76,305.37 L222.27,306.07 L221.77,306.78 L221.26,307.48 L220.73,308.19 L220.19,308.89 L219.64,309.59 L219.07,310.29 L218.49,310.99 L217.90,311.69 L217.28,312.39 L216.66,313.08 L216.01,313.78 L215.35,314.47 L214.66,315.16 L213.96,315.85 L213.23,316.54 L212.49,317.23 L211.72,317.91 L210.92,318.60 L210.10,319.28 L209.25,319.96 L208.38,320.63 L207.47,321.31 L206.54,321.98 L205.56,322.65 L204.56,323.31 L203.51,323.98 L202.43,324.64 L201.31,325.30 L200.14,325.95 L198.92,326.60 L197.66,327.25 L196.34,327.89 L194.97,328.52 L193.53,329.16 L192.04,329.78 L190.48,330.40 L188.84,331.02 L187.13,331.63 L185.35,332.23 L183.47,332.82 L181.51,333.41 L179.45,333.99 L177.29,334.55 L175.02,335.11 L172.63,335.66 L170.13,336.19 L167.50,336.72 L164.73,337.23 L161.82,337.72 L158.76,338.20 L155.55,338.66 L152.18,339.10 L148.65,339.52 L144.94,339.92 L141.07,340.30 L137.02,340.65 L132.80,340.98 L128.42,341.28 L123.88,341.54 L119.18,341.78 L114.35,341.98 L109.40,342.15 L104.34,342.29 L99.21,342.39 L94.02,342.45 L88.80,342.47 L86.50,342.46"/><path d="M713.50,342.46 L710.57,342.45 L705.37,342.40 L700.23,342.31 L695.15,342.18 L690.18,342.02 L685.32,341.82 L680.60,341.59 L676.03,341.33 L671.62,341.04 L667.37,340.72 L663.29,340.37 L659.38,340.00 L655.64,339.60 L652.08,339.18 L648.67,338.74 L645.43,338.29 L642.35,337.81 L639.41,337.32 L636.62,336.82 L633.96,336.30 L631.43,335.76 L629.03,335.22 L626.73,334.66 L624.55,334.10 L622.47,333.52 L620.49,332.94 L618.60,332.34 L616.80,331.74 L615.08,331.13 L613.43,330.52 L611.85,329.90 L610.35,329.28 L608.90,328.64 L607.52,328.01 L606.19,327.37 L604.91,326.72 L603.69,326.07 L602.51,325.42 L601.38,324.76 L600.29,324.10 L599.24,323.44 L598.22,322.77 L597.25,322.11 L596.30,321.43 L595.39,320.76 L594.51,320.08 L593.66,319.41 L592.83,318.72 L592.03,318.04 L591.26,317.36 L590.51,316.67 L589.78,315.98 L589.07,315.29 L588.38,314.60"/><path d="M326.60,103.51 L326.23,104.23 L325.86,104.94 L325.50,105.66 L325.14,106.37 L324.79,107.09 L324.45,107.81 L324.11,108.52 L323.78,109.24 L323.45,109.96 L323.13,110.68 L322.81,111.40 L322.50,112.12 L322.19,112.84 L321.89,113.56 L321.59,114.28 L321.29,115.00 L321.00,115.72 L320.71,116.44 L320.43,117.16 L320.15,117.88 L319.87,118.60 L319.60,119.33 L319.33,120.05 L319.06,120.77 L318.80,121.49 L318.54,122.22 L318.28,122.94 L318.03,123.66 L317.77,124.39 L317.52,125.11 L317.28,125.84 L317.03,126.56 L316.79,127.29 L316.55,128.01 L316.32,128.73 L316.08,129.46 L315.85,130.18 L315.62,130.91 L315.40,131.64 L315.17,132.36 L314.95,133.09 L314.73,133.81 L314.51,134.54 L314.29,135.27 L314.07,135.99 L313.86,136.72 L313.65,137.44 L313.44,138.17 L313.23,138.90 L313.02,139.63 L312.81,140.35 L312.61,141.08 L312.41,141.81 L312.21,142.53 L312.01,143.26 L311.81,143.99 L311.61,144.72 L311.41,145.44 L311.22,146.17 L311.03,146.90 L310.84,147.63 L310.64,148.36 L310.45,149.09 L310.27,149.81 L310.08,150.54 L309.89,151.27 L309.71,152.00 L309.52,152.73 L309.34,153.46 L309.16,154.19 L308.98,154.91 L308.80,155.64 L308.62,156.37 L308.44,157.10 L308.26,157.83 L308.08,158.56 L307.91,159.29 L307.73,160.02 L307.56,160.75 L307.38,161.48 L307.21,162.21 L307.04,162.94 L306.86,163.66 L306.69,164.39 L306.52,165.12 L306.35,165.85 L306.18,166.58 L306.02,167.31 L305.85,168.04 L305.68,168.77 L305.51,169.50 L305.35,170.23 L305.18,170.96 L305.02,171.69 L304.85,172.42 L304.69,173.15 L304.52,173.88 L304.36,174.61 L304.20,175.34 L304.03,176.07 L303.87,176.80 L303.71,177.53 L303.55,178.26 L303.39,178.99 L303.23,179.72 L303.07,180.45 L302.91,181.18 L302.75,181.92 L302.59,182.65 L302.43,183.38 L302.27,184.11 L302.11,184.84 L301.95,185.57 L301.79,186.30 L301.64,187.03 L301.48,187.76 L301.32,188.49 L301.16,189.22 L301.00,189.95 L300.85,190.68 L300.69,191.41 L300.53,192.14 L300.38,192.87 L300.22,193.60 L300.06,194.33 L299.91,195.07 L299.75,195.80 L299.60,196.53 L299.44,197.26 L299.28,197.99 L299.13,198.72 L298.97,199.45 L298.81,200.18 L298.66,200.91 L298.50,201.64 L298.35,202.37 L298.19,203.10 L298.03,203.83 L297.88,204.56 L297.72,205.29 L297.56,206.02 L297.41,206.76 L297.25,207.49 L297.09,208.22 L296.94,208.95 L296.78,209.68 L296.62,210.41 L296.47,211.14 L296.31,211.87 L296.15,212.60 L295.99,213.33 L295.83,214.06 L295.68,214.79 L295.52,215.52 L295.36,216.25 L295.20,216.98 L295.04,217.71 L294.88,218.44 L294.72,219.17 L294.56,219.90 L294.40,220.63 L294.24,221.37 L294.08,222.10 L293.92,222.83 L293.75,223.56 L293.59,224.29 L293.43,225.02 L293.27,225.75 L293.10,226.48 L292.94,227.21 L292.77,227.94 L292.61,228.67 L292.44,229.40 L292.28,230.13 L292.11,230.86 L291.94,231.59 L291.78,232.32 L291.61,233.05 L291.44,233.78 L291.27,234.51 L291.10,235.23 L290.93,235.96 L290.76,236.69 L290.58,237.42 L290.41,238.15 L290.24,238.88 L290.06,239.61 L289.89,240.34 L289.71,241.07 L289.54,241.80 L289.36,242.53 L289.18,243.26 L289.00,243.99 L288.82,244.72 L288.64,245.44 L288.46,246.17 L288.28,246.90 L288.09,247.63 L287.91,248.36 L287.72,249.09 L287.53,249.82 L287.35,250.54 L287.16,251.27 L286.97,252.00 L286.78,252.73 L286.58,253.46 L286.39,254.19 L286.19,254.91 L286.00,255.64 L285.80,256.37 L285.60,257.10 L285.40,257.82 L285.20,258.55 L285.00,259.28 L284.79,260.00 L284.58,260.73 L284.38,261.46 L284.17,262.19 L283.96,262.91 L283.74,263.64 L283.53,264.37 L283.31,265.09 L283.09,265.82 L282.87,266.54 L282.65,267.27 L282.42,268.00 L282.20,268.72 L281.97,269.45 L281.74,270.17 L281.51,270.90 L281.27,271.62 L281.03,272.35 L280.79,273.07 L280.55,273.80 L280.31,274.52 L280.06,275.24 L279.81,275.97 L279.56,276.69 L279.30,277.41 L279.04,278.14 L278.78,278.86 L278.51,279.58 L278.25,280.31 L277.97,281.03 L277.70,281.75 L277.42,282.47 L277.14,283.19 L276.85,283.91 L276.56,284.64 L276.27,285.36 L275.97,286.08 L275.67,286.80 L275.36,287.52 L275.05,288.24 L274.74,288.96 L274.42,289.67 L274.09,290.39 L273.76,291.11 L273.43,291.83 L273.09,292.55 L272.74,293.26 L272.39,293.98 L272.03,294.69 L271.67,295.41 L271.30,296.13 L270.92,296.84 L270.53,297.55 L270.14,298.27 L269.74,298.98 L269.34,299.69 L268.92,300.40 L268.50,301.12 L268.07,301.83 L267.63,302.54 L267.18,303.25 L266.72,303.95 L266.25,304.66 L265.77,305.37 L265.28,306.07 L264.78,306.78 L264.27,307.48 L263.74,308.19 L263.20,308.89 L262.65,309.59 L262.08,310.29 L261.50,310.99 L260.91,311.69 L260.29,312.39 L259.67,313.08 L259.02,313.78 L258.36,314.47 L257.67,315.16 L256.97,315.85 L256.24,316.54 L255.50,317.23 L254.73,317.91 L253.93,318.60 L253.11,319.28 L252.26,319.96 L251.39,320.63 L250.48,321.31 L249.55,321.98 L248.57,322.65 L247.57,323.31 L246.52,323.98 L245.44,324.64 L244.32,325.30 L243.15,325.95 L241.93,326.60 L240.67,327.25 L239.35,327.89 L237.98,328.52 L236.54,329.16 L235.05,329.78 L233.49,330.40 L231.85,331.02 L230.14,331.63 L228.36,332.23 L226.48,332.82 L224.52,333.41 L222.46,333.99 L220.30,334.55 L218.03,335.11 L215.64,335.66 L213.14,336.19 L210.51,336.72 L207.74,337.23 L204.83,337.72 L201.77,338.20 L198.56,338.66 L195.19,339.10 L191.66,339.52 L187.95,339.92 L184.08,340.30 L180.03,340.65 L175.81,340.98 L171.43,341.28 L166.89,341.54 L162.19,341.78 L157.36,341.98 L152.41,342.15 L147.35,342.29 L142.22,342.39 L137.03,342.45 L131.81,342.47 L126.58,342.45 L121.38,342.40 L116.24,342.31 L111.16,342.18 L106.19,342.02 L101.33,341.82 L96.61,341.59 L92.04,341.33 L87.63,341.04 L86.50,340.95"/><path d="M713.50,340.95 L710.38,340.72 L706.30,340.37 L702.39,340.00 L698.65,339.60 L695.09,339.18 L691.68,338.74 L688.44,338.29 L685.36,337.81 L682.42,337.32 L679.63,336.82 L676.97,336.30 L674.44,335.76 L672.04,335.22 L669.74,334.66 L667.56,334.10 L665.48,333.52 L663.50,332.94 L661.61,332.34 L659.81,331.74 L658.09,331.13 L656.44,330.52 L654.86,329.90 L653.36,329.28 L651.91,328.64 L650.53,328.01 L649.20,327.37 L647.92,326.72 L646.70,326.07 L645.52,325.42 L644.39,324.76 L643.30,324.10 L642.25,323.44 L641.23,322.77 L640.26,322.11 L639.31,321.43 L638.40,320.76 L637.52,320.08 L636.67,319.41 L635.84,318.72 L635.04,318.04 L634.27,317.36 L633.52,316.67 L632.79,315.98 L632.08,315.29 L631.39,314.60"/><path d="M369.61,103.51 L369.24,104.23 L368.87,104.94 L368.51,105.66 L368.15,106.37 L367.80,107.09 L367.46,107.81 L367.12,108.52 L366.79,109.24 L366.46,109.96 L366.14,110.68 L365.82,111.40 L365.51,112.12 L365.20,112.84 L364.90,113.56 L364.60,114.28 L364.30,115.00 L364.01,115.72 L363.72,116.44 L363.44,117.16 L363.16,117.88 L362.88,118.60 L362.61,119.33 L362.34,120.05 L362.07,120.77 L361.81,121.49 L361.55,122.22 L361.29,122.94 L361.04,123.66 L360.78,124.39 L360.53,125.11 L360.29,125.84 L360.04,126.56 L359.80,127.29 L359.56,128.01 L359.33,128.73 L359.09,129.46 L358.86,130.18 L358.63,130.91 L358.41,131.64 L358.18,132.36 L357.96,133.09 L357.74,133.81 L357.52,134.54 L357.30,135.27 L357.08,135.99 L356.87,136.72 L356.66,137.44 L356.45,138.17 L356.24,138.90 L356.03,139.63 L355.82,140.35 L355.62,141.08 L355.42,141.81 L355.22,142.53 L355.02,143.26 L354.82,143.99 L354.62,144.72 L354.42,145.44 L354.23,146.17 L354.04,146.90 L353.85,147.63 L353.65,148.36 L353.46,149.09 L353.28,149.81 L353.09,150.54 L352.90,151.27 L352.72,152.00 L352.53,152.73 L352.35,153.46 L352.17,154.19 L351.99,154.91 L351.81,155.64 L351.63,156.37 L351.45,157.10 L351.27,157.83 L351.09,158.56 L350.92,159.29 L350.74,160.02 L350.57,160.75 L350.39,161.48 L350.22,162.21 L350.05,162.94 L349.87,163.66 L349.70,164.39 L349.53,165.12 L349.36,165.85 L349.19,166.58 L349.03,167.31 L348.86,168.04 L348.69,168.77 L348.52,169.50 L348.36,170.23 L348.19,170.96 L348.03,171.69 L347.86,172.42 L347.70,173.15 L347.53,173.88 L347.37,174.61 L347.21,175.34 L347.04,176.07 L346.88,176.80 L346.72,177.53 L346.56,178.26 L346.40,178.99 L346.24,179.72 L346.08,180.45 L345.92,181.18 L345.76,181.92 L345.60,182.65 L345.44,183.38 L345.28,184.11 L345.12,184.84 L344.96,185.57 L344.80,186.30 L344.65,187.03 L344.49,187.76 L344.33,188.49 L344.17,189.22 L344.01,189.95 L343.86,190.68 L343.70,191.41 L343.54,192.14 L343.39,192.87 L343.23,193.60 L343.07,194.33 L342.92,195.07 L342.76,195.80 L342.61,196.53 L342.45,197.26 L342.29,197.99 L342.14,198.72 L341.98,199.45 L341.82,200.18 L341.67,200.91 L341.51,201.64 L341.36,202.37 L341.20,203.10 L341.04,203.83 L340.89,204.56 L340.73,205.29 L340.57,206.02 L340.42,206.76 L340.26,207.49 L340.10,208.22 L339.95,208.95 L339.79,209.68 L339.63,210.41 L339.48,211.14 L339.32,211.87 L339.16,212.60 L339.00,213.33 L338.84,214.06 L338.69,214.79 L338.53,215.52 L338.37,216.25 L338.21,216.98 L338.05,217.71 L337.89,218.44 L337.73,219.17 L337.57,219.90 L337.41,220.63 L337.25,221.37 L337.09,222.10 L336.93,222.83 L336.76,223.56 L336.60,224.29 L336.44,225.02 L336.28,225.75 L336.11,226.48 L335.95,227.21 L335.78,227.94 L335.62,228.67 L335.45,229.40 L335.29,230.13 L335.12,230.86 L334.95,231.59 L334.79,232.32 L334.62,233.05 L334.45,233.78 L334.28,234.51 L334.11,235.23 L333.94,235.96 L333.77,236.69 L333.59,237.42 L333.42,238.15 L333.25,238.88 L333.07,239.61 L332.90,240.34 L332.72,241.07 L332.55,241.80 L332.37,242.53 L332.19,243.26 L332.01,243.99 L331.83,244.72 L331.65,245.44 L331.47,246.17 L331.29,246.90 L331.10,247.63 L330.92,248.36 L330.73,249.09 L330.54,249.82 L330.36,250.54 L330.17,251.27 L329.98,252.00 L329.79,252.73 L329.59,253.46 L329.40,254.19 L329.20,254.91 L329.01,255.64 L328.81,256.37 L328.61,257.10 L328.41,257.82 L328.21,258.55 L328.01,259.28 L327.80,260.00 L327.59,260.73 L327.39,261.46 L327.18,262.19 L326.97,262.91 L326.75,263.64 L326.54,264.37 L326.32,265.09 L326.10,265.82 L325.88,266.54 L325.66,267.27 L325.43,268.00 L325.21,268.72 L324.98,269.45 L324.75,270.17 L324.52,270.90 L324.28,271.62 L324.04,272.35 L323.80,273.07 L323.56,273.80 L323.32,274.52 L323.07,275.24 L322.82,275.97 L322.57,276.69 L322.31,277.41 L322.05,278.14 L321.79,278.86 L321.52,279.58 L321.26,280.31 L320.98,281.03 L320.71,281.75 L320.43,282.47 L320.15,283.19 L319.86,283.91 L319.57,284.64 L319.28,285.36 L318.98,286.08 L318.68,286.80 L318.37,287.52 L318.06,288.24 L317.75,288.96 L317.43,289.67 L317.10,290.39 L316.77,291.11 L316.44,291.83 L316.10,292.55 L315.75,293.26 L315.40,293.98 L315.04,294.69 L314.68,295.41 L314.31,296.13 L313.93,296.84 L313.54,297.55 L313.15,298.27 L312.75,298.98 L312.35,299.69 L311.93,300.40 L311.51,301.12 L311.08,301.83 L310.64,302.54 L310.19,303.25 L309.73,303.95 L309.26,304.66 L308.78,305.37 L308.29,306.07 L307.79,306.78 L307.28,307.48 L306.75,308.19 L306.21,308.89 L305.66,309.59 L305.09,310.29 L304.51,310.99 L303.92,311.69 L303.30,312.39 L302.68,313.08 L302.03,313.78 L301.37,314.47 L300.68,315.16 L299.98,315.85 L299.25,316.54 L298.51,317.23 L297.74,317.91 L296.94,318.60 L296.12,319.28 L295.27,319.96 L294.40,320.63 L293.49,321.31 L292.56,321.98 L291.58,322.65 L290.58,323.31 L289.53,323.98 L288.45,324.64 L287.33,325.30 L286.16,325.95 L284.94,326.60 L283.68,327.25 L282.36,327.89 L280.99,328.52 L279.55,329.16 L278.06,329.78 L276.50,330.40 L274.86,331.02 L273.15,331.63 L271.37,332.23 L269.49,332.82 L267.53,333.41 L265.47,333.99 L263.31,334.55 L261.04,335.11 L258.65,335.66 L256.15,336.19 L253.52,336.72 L250.75,337.23 L247.84,337.72 L244.78,338.20 L241.57,338.66 L238.20,339.10 L234.67,339.52 L230.96,339.92 L227.09,340.30 L223.04,340.65 L218.82,340.98 L214.44,341.28 L209.90,341.54 L205.20,341.78 L200.37,341.98 L195.42,342.15 L190.36,342.29 L185.23,342.39 L180.04,342.45 L174.82,342.47 L169.59,342.45 L164.39,342.40 L159.25,342.31 L154.17,342.18 L149.20,342.02 L144.34,341.82 L139.62,341.59 L135.05,341.33 L130.64,341.04 L126.39,340.72 L122.31,340.37 L118.40,340.00 L114.66,339.60 L111.10,339.18 L107.69,338.74 L104.45,338.29 L101.37,337.81 L98.43,337.32 L95.64,336.82 L92.98,336.30 L90.45,335.76 L88.05,335.22 L86.50,334.84"/><path d="M713.50,334.84 L712.75,334.66 L710.57,334.10 L708.49,333.52 L706.51,332.94 L704.62,332.34 L702.82,331.74 L701.10,331.13 L699.45,330.52 L697.87,329.90 L696.37,329.28 L694.92,328.64 L693.54,328.01 L692.21,327.37 L690.93,326.72 L689.71,326.07 L688.53,325.42 L687.40,324.76 L686.31,324.10 L685.26,323.44 L684.24,322.77 L683.27,322.11 L682.32,321.43 L681.41,320.76 L680.53,320.08 L679.68,319.41 L678.85,318.72 L678.05,318.04 L677.28,317.36 L676.53,316.67 L675.80,315.98 L675.09,315.29 L674.40,314.60"/><path d="M412.62,103.51 L412.25,104.23 L411.88,104.94 L411.52,105.66 L411.16,106.37 L410.81,107.09 L410.47,107.81 L410.13,108.52 L409.80,109.24 L409.47,109.96 L409.15,110.68 L408.83,111.40 L408.52,112.12 L408.21,112.84 L407.91,113.56 L407.61,114.28 L407.31,115.00 L407.02,115.72 L406.73,116.44 L406.45,117.16 L406.17,117.88 L405.89,118.60 L405.62,119.33 L405.35,120.05 L405.08,120.77 L404.82,121.49 L404.56,122.22 L404.30,122.94 L404.05,123.66 L403.79,124.39 L403.54,125.11 L403.30,125.84 L403.05,126.56 L402.81,127.29 L402.57,128.01 L402.34,128.73 L402.10,129.46 L401.87,130.18 L401.64,130.91 L401.42,131.64 L401.19,132.36 L400.97,133.09 L400.75,133.81 L400.53,134.54 L400.31,135.27 L400.09,135.99 L399.88,136.72 L399.67,137.44 L399.46,138.17 L399.25,138.90 L399.04,139.63 L398.83,140.35 L398.63,141.08 L398.43,141.81 L398.23,142.53 L398.03,143.26 L397.83,143.99 L397.63,144.72 L397.43,145.44 L397.24,146.17 L397.05,146.90 L396.86,147.63 L396.66,148.36 L396.47,149.09 L396.29,149.81 L396.10,150.54 L395.91,151.27 L395.73,152.00 L395.54,152.73 L395.36,153.46 L395.18,154.19 L395.00,154.91 L394.82,155.64 L394.64,156.37 L394.46,157.10 L394.28,157.83 L394.10,158.56 L393.93,159.29 L393.75,160.02 L393.58,160.75 L393.40,161.48 L393.23,162.21 L393.06,162.94 L392.88,163.66 L392.71,164.39 L392.54,165.12 L392.37,165.85 L392.20,166.58 L392.04,167.31 L391.87,168.04 L391.70,168.77 L391.53,169.50 L391.37,170.23 L391.20,170.96 L391.04,171.69 L390.87,172.42 L390.71,173.15 L390.54,173.88 L390.38,174.61 L390.22,175.34 L390.05,176.07 L389.89,176.80 L389.73,177.53 L389.57,178.26 L389.41,178.99 L389.25,179.72 L389.09,180.45 L388.93,181.18 L388.77,181.92 L388.61,182.65 L388.45,183.38 L388.29,184.11 L388.13,184.84 L387.97,185.57 L387.81,186.30 L387.66,187.03 L387.50,187.76 L387.34,188.49 L387.18,189.22 L387.02,189.95 L386.87,190.68 L386.71,191.41 L386.55,192.14 L386.40,192.87 L386.24,193.60 L386.08,194.33 L385.93,195.07 L385.77,195.80 L385.62,196.53 L385.46,197.26 L385.30,197.99 L385.15,198.72 L384.99,199.45 L384.83,200.18 L384.68,200.91 L384.52,201.64 L384.37,202.37 L384.21,203.10 L384.05,203.83 L383.90,204.56 L383.74,205.29 L383.58,206.02 L383.43,206.76 L383.27,207.49 L383.11,208.22 L382.96,208.95 L382.80,209.68 L382.64,210.41 L382.49,211.14 L382.33,211.87 L382.17,212.60 L382.01,213.33 L381.85,214.06 L381.70,214.79 L381.54,215.52 L381.38,216.25 L381.22,216.98 L381.06,217.71 L380.90,218.44 L380.74,219.17 L380.58,219.90 L380.42,220.63 L380.26,221.37 L380.10,222.10 L379.94,222.83 L379.77,223.56 L379.61,224.29 L379.45,225.02 L379.29,225.75 L379.12,226.48 L378.96,227.21 L378.79,227.94 L378.63,228.67 L378.46,229.40 L378.30,230.13 L378.13,230.86 L377.96,231.59 L377.80,232.32 L377.63,233.05 L377.46,233.78 L377.29,234.51 L377.12,235.23 L376.95,235.96 L376.78,236.69 L376.60,237.42 L376.43,238.15 L376.26,238.88 L376.08,239.61 L375.91,240.34 L375.73,241.07 L375.56,241.80 L375.38,242.53 L375.20,243.26 L375.02,243.99 L374.84,244.72 L374.66,245.44 L374.48,246.17 L374.30,246.90 L374.11,247.63 L373.93,248.36 L373.74,249.09 L373.55,249.82 L373.37,250.54 L373.18,251.27 L372.99,252.00 L372.80,252.73 L372.60,253.46 L372.41,254.19 L372.21,254.91 L372.02,255.64 L371.82,256.37 L371.62,257.10 L371.42,257.82 L371.22,258.55 L371.02,259.28 L370.81,260.00 L370.60,260.73 L370.40,261.46 L370.19,262.19 L369.98,262.91 L369.76,263.64 L369.55,264.37 L369.33,265.09 L369.11,265.82 L368.89,266.54 L368.67,267.27 L368.44,268.00 L368.22,268.72 L367.99,269.45 L367.76,270.17 L367.53,270.90 L367.29,271.62 L367.05,272.35 L366.81,273.07 L366.57,273.80 L366.33,274.52 L366.08,275.24 L365.83,275.97 L365.58,276.69 L365.32,277.41 L365.06,278.14 L364.80,278.86 L364.53,279.58 L364.27,280.31 L363.99,281.03 L363.72,281.75 L363.44,282.47 L363.16,283.19 L362.87,283.91 L362.58,284.64 L362.29,285.36 L361.99,286.08 L361.69,286.80 L361.38,287.52 L361.07,288.24 L360.76,288.96 L360.44,289.67 L360.11,290.39 L359.78,291.11 L359.45,291.83 L359.11,292.55 L358.76,293.26 L358.41,293.98 L358.05,294.69 L357.69,295.41 L357.32,296.13 L356.94,296.84 L356.55,297.55 L356.16,298.27 L355.76,298.98 L355.36,299.69 L354.94,300.40 L354.52,301.12 L354.09,301.83 L353.65,302.54 L353.20,303.25 L352.74,303.95 L352.27,304.66 L351.79,305.37 L351.30,306.07 L350.80,306.78 L350.29,307.48 L349.76,308.19 L349.22,308.89 L348.67,309.59 L348.10,310.29 L347.52,310.99 L346.93,311.69 L346.31,312.39 L345.69,313.08 L345.04,313.78 L344.38,314.47 L343.69,315.16 L342.99,315.85 L342.26,316.54 L341.52,317.23 L340.75,317.91 L339.95,318.60 L339.13,319.28 L338.28,319.96 L337.41,320.63 L336.50,321.31 L335.57,321.98 L334.59,322.65 L333.59,323.31 L332.54,323.98 L331.46,324.64 L330.34,325.30 L329.17,325.95 L327.95,326.60 L326.69,327.25 L325.37,327.89 L324.00,328.52 L322.56,329.16 L321.07,329.78 L319.51,330.40 L317.87,331.02 L316.16,331.63 L314.38,332.23 L312.50,332.82 L310.54,333.41 L308.48,333.99 L306.32,334.55 L304.05,335.11 L301.66,335.66 L299.16,336.19 L296.53,336.72 L293.76,337.23 L290.85,337.72 L287.79,338.20 L284.58,338.66 L281.21,339.10 L277.68,339.52 L273.97,339.92 L270.10,340.30 L266.05,340.65 L261.83,340.98 L257.45,341.28 L252.91,341.54 L248.21,341.78 L243.38,341.98 L238.43,342.15 L233.37,342.29 L228.24,342.39 L223.05,342.45 L217.83,342.47 L212.60,342.45 L207.40,342.40 L202.26,342.31 L197.18,342.18 L192.21,342.02 L187.35,341.82 L182.63,341.59 L178.06,341.33 L173.65,341.04 L169.40,340.72 L165.32,340.37 L161.41,340.00 L157.67,339.60 L154.11,339.18 L150.70,338.74 L147.46,338.29 L144.38,337.81 L141.44,337.32 L138.65,336.82 L135.99,336.30 L133.46,335.76 L131.06,335.22 L128.76,334.66 L126.58,334.10 L124.50,333.52 L122.52,332.94 L120.63,332.34 L118.83,331.74 L117.11,331.13 L115.46,330.52 L113.88,329.90 L112.38,329.28 L110.93,328.64 L109.55,328.01 L108.22,327.37 L106.94,326.72 L105.72,326.07 L104.54,325.42 L103.41,324.76 L102.32,324.10 L101.27,323.44 L100.25,322.77 L99.28,322.11 L98.33,321.43 L97.42,320.76 L96.54,320.08 L95.69,319.41 L94.86,318.72 L94.06,318.04 L93.29,317.36 L92.54,316.67 L91.81,315.98 L91.10,315.29 L90.41,314.60"/><path d="M455.63,103.51 L455.26,104.23 L454.89,104.94 L454.53,105.66 L454.17,106.37 L453.82,107.09 L453.48,107.81 L453.14,108.52 L452.81,109.24 L452.48,109.96 L452.16,110.68 L451.84,111.40 L451.53,112.12 L451.22,112.84 L450.92,113.56 L450.62,114.28 L450.32,115.00 L450.03,115.72 L449.74,116.44 L449.46,117.16 L449.18,117.88 L448.90,118.60 L448.63,119.33 L448.36,120.05 L448.09,120.77 L447.83,121.49 L447.57,122.22 L447.31,122.94 L447.06,123.66 L446.80,124.39 L446.55,125.11 L446.31,125.84 L446.06,126.56 L445.82,127.29 L445.58,128.01 L445.35,128.73 L445.11,129.46 L444.88,130.18 L444.65,130.91 L444.43,131.64 L444.20,132.36 L443.98,133.09 L443.76,133.81 L443.54,134.54 L443.32,135.27 L443.10,135.99 L442.89,136.72 L442.68,137.44 L442.47,138.17 L442.26,138.90 L442.05,139.63 L441.84,140.35 L441.64,141.08 L441.44,141.81 L441.24,142.53 L441.04,143.26 L440.84,143.99 L440.64,144.72 L440.44,145.44 L440.25,146.17 L440.06,146.90 L439.87,147.63 L439.67,148.36 L439.48,149.09 L439.30,149.81 L439.11,150.54 L438.92,151.27 L438.74,152.00 L438.55,152.73 L438.37,153.46 L438.19,154.19 L438.01,154.91 L437.83,155.64 L437.65,156.37 L437.47,157.10 L437.29,157.83 L437.11,158.56 L436.94,159.29 L436.76,160.02 L436.59,160.75 L436.41,161.48 L436.24,162.21 L436.07,162.94 L435.89,163.66 L435.72,164.39 L435.55,165.12 L435.38,165.85 L435.21,166.58 L435.05,167.31 L434.88,168.04 L434.71,168.77 L434.54,169.50 L434.38,170.23 L434.21,170.96 L434.05,171.69 L433.88,172.42 L433.72,173.15 L433.55,173.88 L433.39,174.61 L433.23,175.34 L433.06,176.07 L432.90,176.80 L432.74,177.53 L432.58,178.26 L432.42,178.99 L432.26,179.72 L432.10,180.45 L431.94,181.18 L431.78,181.92 L431.62,182.65 L431.46,183.38 L431.30,184.11 L431.14,184.84 L430.98,185.57 L430.82,186.30 L430.67,187.03 L430.51,187.76 L430.35,188.49 L430.19,189.22 L430.03,189.95 L429.88,190.68 L429.72,191.41 L429.56,192.14 L429.41,192.87 L429.25,193.60 L429.09,194.33 L428.94,195.07 L428.78,195.80 L428.63,196.53 L428.47,197.26 L428.31,197.99 L428.16,198.72 L428.00,199.45 L427.84,200.18 L427.69,200.91 L427.53,201.64 L427.38,202.37 L427.22,203.10 L427.06,203.83 L426.91,204.56 L426.75,205.29 L426.59,206.02 L426.44,206.76 L426.28,207.49 L426.12,208.22 L425.97,208.95 L425.81,209.68 L425.65,210.41 L425.50,211.14 L425.34,211.87 L425.18,212.60 L425.02,213.33 L424.86,214.06 L424.71,214.79 L424.55,215.52 L424.39,216.25 L424.23,216.98 L424.07,217.71 L423.91,218.44 L423.75,219.17 L423.59,219.90 L423.43,220.63 L423.27,221.37 L423.11,222.10 L422.95,222.83 L422.78,223.56 L422.62,224.29 L422.46,225.02 L422.30,225.75 L422.13,226.48 L421.97,227.21 L421.80,227.94 L421.64,228.67 L421.47,229.40 L421.31,230.13 L421.14,230.86 L420.97,231.59 L420.81,232.32 L420.64,233.05 L420.47,233.78 L420.30,234.51 L420.13,235.23 L419.96,235.96 L419.79,236.69 L419.61,237.42 L419.44,238.15 L419.27,238.88 L419.09,239.61 L418.92,240.34 L418.74,241.07 L418.57,241.80 L418.39,242.53 L418.21,243.26 L418.03,243.99 L417.85,244.72 L417.67,245.44 L417.49,246.17 L417.31,246.90 L417.12,247.63 L416.94,248.36 L416.75,249.09 L416.56,249.82 L416.38,250.54 L416.19,251.27 L416.00,252.00 L415.81,252.73 L415.61,253.46 L415.42,254.19 L415.22,254.91 L415.03,255.64 L414.83,256.37 L414.63,257.10 L414.43,257.82 L414.23,258.55 L414.03,259.28 L413.82,260.00 L413.61,260.73 L413.41,261.46 L413.20,262.19 L412.99,262.91 L412.77,263.64 L412.56,264.37 L412.34,265.09 L412.12,265.82 L411.90,266.54 L411.68,267.27 L411.45,268.00 L411.23,268.72 L411.00,269.45 L410.77,270.17 L410.54,270.90 L410.30,271.62 L410.06,272.35 L409.82,273.07 L409.58,273.80 L409.34,274.52 L409.09,275.24 L408.84,275.97 L408.59,276.69 L408.33,277.41 L408.07,278.14 L407.81,278.86 L407.54,279.58 L407.28,280.31 L407.00,281.03 L406.73,281.75 L406.45,282.47 L406.17,283.19 L405.88,283.91 L405.59,284.64 L405.30,285.36 L405.00,286.08 L404.70,286.80 L404.39,287.52 L404.08,288.24 L403.77,288.96 L403.45,289.67 L403.12,290.39 L402.79,291.11 L402.46,291.83 L402.12,292.55 L401.77,293.26 L401.42,293.98 L401.06,294.69 L400.70,295.41 L400.33,296.13 L399.95,296.84 L399.56,297.55 L399.17,298.27 L398.77,298.98 L398.37,299.69 L397.95,300.40 L397.53,301.12 L397.10,301.83 L396.66,302.54 L396.21,303.25 L395.75,303.95 L395.28,304.66 L394.80,305.37 L394.31,306.07 L393.81,306.78 L393.30,307.48 L392.77,308.19 L392.23,308.89 L391.68,309.59 L391.11,310.29 L390.53,310.99 L389.94,311.69 L389.32,312.39 L388.70,313.08 L388.05,313.78 L387.39,314.47 L386.70,315.16 L386.00,315.85 L385.27,316.54 L384.53,317.23 L383.76,317.91 L382.96,318.60 L382.14,319.28 L381.29,319.96 L380.42,320.63 L379.51,321.31 L378.58,321.98 L377.60,322.65 L376.60,323.31 L375.55,323.98 L374.47,324.64 L373.35,325.30 L372.18,325.95 L370.96,326.60 L369.70,327.25 L368.38,327.89 L367.01,328.52 L365.57,329.16 L364.08,329.78 L362.52,330.40 L360.88,331.02 L359.17,331.63 L357.39,332.23 L355.51,332.82 L353.55,333.41 L351.49,333.99 L349.33,334.55 L347.06,335.11 L344.67,335.66 L342.17,336.19 L339.54,336.72 L336.77,337.23 L333.86,337.72 L330.80,338.20 L327.59,338.66 L324.22,339.10 L320.69,339.52 L316.98,339.92 L313.11,340.30 L309.06,340.65 L304.84,340.98 L300.46,341.28 L295.92,341.54 L291.22,341.78 L286.39,341.98 L281.44,342.15 L276.38,342.29 L271.25,342.39 L266.06,342.45 L260.84,342.47 L255.61,342.45 L250.41,342.40 L245.27,342.31 L240.19,342.18 L235.22,342.02 L230.36,341.82 L225.64,341.59 L221.07,341.33 L216.66,341.04 L212.41,340.72 L208.33,340.37 L204.42,340.00 L200.68,339.60 L197.12,339.18 L193.71,338.74 L190.47,338.29 L187.39,337.81 L184.45,337.32 L181.66,336.82 L179.00,336.30 L176.47,335.76 L174.07,335.22 L171.77,334.66 L169.59,334.10 L167.51,333.52 L165.53,332.94 L163.64,332.34 L161.84,331.74 L160.12,331.13 L158.47,330.52 L156.89,329.90 L155.39,329.28 L153.94,328.64 L152.56,328.01 L151.23,327.37 L149.95,326.72 L148.73,326.07 L147.55,325.42 L146.42,324.76 L145.33,324.10 L144.28,323.44 L143.26,322.77 L142.29,322.11 L141.34,321.43 L140.43,320.76 L139.55,320.08 L138.70,319.41 L137.87,318.72 L137.07,318.04 L136.30,317.36 L135.55,316.67 L134.82,315.98 L134.11,315.29 L133.42,314.60"/><path d="M480.05,103.51 L479.68,104.23 L479.31,104.94 L478.95,105.66 L478.59,106.37 L478.24,107.09 L477.90,107.81 L477.56,108.52 L477.23,109.24 L476.90,109.96 L476.58,110.68 L476.26,111.40 L475.95,112.12 L475.64,112.84 L475.34,113.56 L475.04,114.28 L474.74,115.00 L474.45,115.72 L474.16,116.44 L473.88,117.16 L473.60,117.88 L473.32,118.60 L473.05,119.33 L472.78,120.05 L472.51,120.77 L472.25,121.49 L471.99,122.22 L471.73,122.94 L471.48,123.66 L471.22,124.39 L470.97,125.11 L470.73,125.84 L470.48,126.56 L470.24,127.29 L470.00,128.01 L469.77,128.73 L469.53,129.46 L469.30,130.18 L469.07,130.91 L468.85,131.64 L468.62,132.36 L468.40,133.09 L468.18,133.81 L467.96,134.54 L467.74,135.27 L467.52,135.99 L467.31,136.72 L467.10,137.44 L466.89,138.17 L466.68,138.90 L466.47,139.63 L466.26,140.35 L466.06,141.08 L465.86,141.81 L465.66,142.53 L465.46,143.26 L465.26,143.99 L465.06,144.72 L464.86,145.44 L464.67,146.17 L464.48,146.90 L464.29,147.63 L464.09,148.36 L463.90,149.09 L463.72,149.81 L463.53,150.54 L463.34,151.27 L463.16,152.00 L462.97,152.73 L462.79,153.46 L462.61,154.19 L462.43,154.91 L462.25,155.64 L462.07,156.37 L461.89,157.10 L461.71,157.83 L461.53,158.56 L461.36,159.29 L461.18,160.02 L461.01,160.75 L460.83,161.48 L460.66,162.21 L460.49,162.94 L460.31,163.66 L460.14,164.39 L459.97,165.12 L459.80,165.85 L459.63,166.58 L459.47,167.31 L459.30,168.04 L459.13,168.77 L458.96,169.50 L458.80,170.23 L458.63,170.96 L458.47,171.69 L458.30,172.42 L458.14,173.15 L457.97,173.88 L457.81,174.61 L457.65,175.34 L457.48,176.07 L457.32,176.80 L457.16,177.53 L457.00,178.26 L456.84,178.99 L456.68,179.72 L456.52,180.45 L456.36,181.18 L456.20,181.92 L456.04,182.65 L455.88,183.38 L455.72,184.11 L455.56,184.84 L455.40,185.57 L455.24,186.30 L455.09,187.03 L454.93,187.76 L454.77,188.49 L454.61,189.22 L454.45,189.95 L454.30,190.68 L454.14,191.41 L453.98,192.14 L453.83,192.87 L453.67,193.60 L453.51,194.33 L453.36,195.07 L453.20,195.80 L453.05,196.53 L452.89,197.26 L452.73,197.99 L452.58,198.72 L452.42,199.45 L452.26,200.18 L452.11,200.91 L451.95,201.64 L451.80,202.37 L451.64,203.10 L451.48,203.83 L451.33,204.56 L451.17,205.29 L451.01,206.02 L450.86,206.76 L450.70,207.49 L450.54,208.22 L450.39,208.95 L450.23,209.68 L450.07,210.41 L449.92,211.14 L449.76,211.87 L449.60,212.60 L449.44,213.33 L449.28,214.06 L449.13,214.79 L448.97,215.52 L448.81,216.25 L448.65,216.98 L448.49,217.71 L448.33,218.44 L448.17,219.17 L448.01,219.90 L447.85,220.63 L447.69,221.37 L447.53,222.10 L447.37,222.83 L447.20,223.56 L447.04,224.29 L446.88,225.02 L446.72,225.75 L446.55,226.48 L446.39,227.21 L446.22,227.94 L446.06,228.67 L445.89,229.40 L445.73,230.13 L445.56,230.86 L445.39,231.59 L445.23,232.32 L445.06,233.05 L444.89,233.78 L444.72,234.51 L444.55,235.23 L444.38,235.96 L444.21,236.69 L444.03,237.42 L443.86,238.15 L443.69,238.88 L443.51,239.61 L443.34,240.34 L443.16,241.07 L442.99,241.80 L442.81,242.53 L442.63,243.26 L442.45,243.99 L442.27,244.72 L442.09,245.44 L441.91,246.17 L441.73,246.90 L441.54,247.63 L441.36,248.36 L441.17,249.09 L440.98,249.82 L440.80,250.54 L440.61,251.27 L440.42,252.00 L440.23,252.73 L440.03,253.46 L439.84,254.19 L439.64,254.91 L439.45,255.64 L439.25,256.37 L439.05,257.10 L438.85,257.82 L438.65,258.55 L438.45,259.28 L438.24,260.00 L438.03,260.73 L437.83,261.46 L437.62,262.19 L437.41,262.91 L437.19,263.64 L436.98,264.37 L436.76,265.09 L436.54,265.82 L436.32,266.54 L436.10,267.27 L435.87,268.00 L435.65,268.72 L435.42,269.45 L435.19,270.17 L434.96,270.90 L434.72,271.62 L434.48,272.35 L434.24,273.07 L434.00,273.80 L433.76,274.52 L433.51,275.24 L433.26,275.97 L433.01,276.69 L432.75,277.41 L432.49,278.14 L432.23,278.86 L431.96,279.58 L431.70,280.31 L431.42,281.03 L431.15,281.75 L430.87,282.47 L430.59,283.19 L430.30,283.91 L430.01,284.64 L429.72,285.36 L429.42,286.08 L429.12,286.80 L428.81,287.52 L428.50,288.24 L428.19,288.96 L427.87,289.67 L427.54,290.39 L427.21,291.11 L426.88,291.83 L426.54,292.55 L426.19,293.26 L425.84,293.98 L425.48,294.69 L425.12,295.41 L424.75,296.13 L424.37,296.84 L423.98,297.55 L423.59,298.27 L423.19,298.98 L422.79,299.69 L422.37,300.40 L421.95,301.12 L421.52,301.83 L421.08,302.54 L420.63,303.25 L420.17,303.95 L419.70,304.66 L419.22,305.37 L418.73,306.07 L418.23,306.78 L417.72,307.48 L417.19,308.19 L416.65,308.89 L416.10,309.59 L415.53,310.29 L414.95,310.99 L414.36,311.69 L413.74,312.39 L413.12,313.08 L412.47,313.78 L411.81,314.47 L411.12,315.16 L410.42,315.85 L409.69,316.54 L408.95,317.23 L408.18,317.91 L407.38,318.60 L406.56,319.28 L405.71,319.96 L404.84,320.63 L403.93,321.31 L403.00,321.98 L402.02,322.65 L401.02,323.31 L399.97,323.98 L398.89,324.64 L397.77,325.30 L396.60,325.95 L395.38,326.60 L394.12,327.25 L392.80,327.89 L391.43,328.52 L389.99,329.16 L388.50,329.78 L386.94,330.40 L385.30,331.02 L383.59,331.63 L381.81,332.23 L379.93,332.82 L377.97,333.41 L375.91,333.99 L373.75,334.55 L371.48,335.11 L369.09,335.66 L366.59,336.19 L363.96,336.72 L361.19,337.23 L358.28,337.72 L355.22,338.20 L352.01,338.66 L348.64,339.10 L345.11,339.52 L341.40,339.92 L337.53,340.30 L333.48,340.65 L329.26,340.98 L324.88,341.28 L320.34,341.54 L315.64,341.78 L310.81,341.98 L305.86,342.15 L300.80,342.29 L295.67,342.39 L290.48,342.45 L285.26,342.47 L280.03,342.45 L274.83,342.40 L269.69,342.31 L264.61,342.18 L259.64,342.02 L254.78,341.82 L250.06,341.59 L245.49,341.33 L241.08,341.04 L236.83,340.72 L232.75,340.37 L228.84,340.00 L225.10,339.60 L221.54,339.18 L218.13,338.74 L214.89,338.29 L211.81,337.81 L208.87,337.32 L206.08,336.82 L203.42,336.30 L200.89,335.76 L198.49,335.22 L196.19,334.66 L194.01,334.10 L191.93,333.52 L189.95,332.94 L188.06,332.34 L186.26,331.74 L184.54,331.13 L182.89,330.52 L181.31,329.90 L179.81,329.28 L178.36,328.64 L176.98,328.01 L175.65,327.37 L174.37,326.72 L173.15,326.07 L171.97,325.42 L170.84,324.76 L169.75,324.10 L168.70,323.44 L167.68,322.77 L166.71,322.11 L165.76,321.43 L164.85,320.76 L163.97,320.08 L163.12,319.41 L162.29,318.72 L161.49,318.04 L160.72,317.36 L159.97,316.67 L159.24,315.98 L158.53,315.29 L157.84,314.60"/><path d="M523.10,103.51 L522.73,104.23 L522.36,104.94 L522.00,105.66 L521.64,106.37 L521.29,107.09 L520.95,107.81 L520.61,108.52 L520.28,109.24 L519.95,109.96 L519.63,110.68 L519.31,111.40 L519.00,112.12 L518.69,112.84 L518.39,113.56 L518.09,114.28 L517.79,115.00 L517.50,115.72 L517.21,116.44 L516.93,117.16 L516.65,117.88 L516.37,118.60 L516.10,119.33 L515.83,120.05 L515.56,120.77 L515.30,121.49 L515.04,122.22 L514.78,122.94 L514.53,123.66 L514.27,124.39 L514.02,125.11 L513.78,125.84 L513.53,126.56 L513.29,127.29 L513.05,128.01 L512.82,128.73 L512.58,129.46 L512.35,130.18 L512.12,130.91 L511.90,131.64 L511.67,132.36 L511.45,133.09 L511.23,133.81 L511.01,134.54 L510.79,135.27 L510.57,135.99 L510.36,136.72 L510.15,137.44 L509.94,138.17 L509.73,138.90 L509.52,139.63 L509.31,140.35 L509.11,141.08 L508.91,141.81 L508.71,142.53 L508.51,143.26 L508.31,143.99 L508.11,144.72 L507.91,145.44 L507.72,146.17 L507.53,146.90 L507.34,147.63 L507.14,148.36 L506.95,149.09 L506.77,149.81 L506.58,150.54 L506.39,151.27 L506.21,152.00 L506.02,152.73 L505.84,153.46 L505.66,154.19 L505.48,154.91 L505.30,155.64 L505.12,156.37 L504.94,157.10 L504.76,157.83 L504.58,158.56 L504.41,159.29 L504.23,160.02 L504.06,160.75 L503.88,161.48 L503.71,162.21 L503.54,162.94 L503.36,163.66 L503.19,164.39 L503.02,165.12 L502.85,165.85 L502.68,166.58 L502.52,167.31 L502.35,168.04 L502.18,168.77 L502.01,169.50 L501.85,170.23 L501.68,170.96 L501.52,171.69 L501.35,172.42 L501.19,173.15 L501.02,173.88 L500.86,174.61 L500.70,175.34 L500.53,176.07 L500.37,176.80 L500.21,177.53 L500.05,178.26 L499.89,178.99 L499.73,179.72 L499.57,180.45 L499.41,181.18 L499.25,181.92 L499.09,182.65 L498.93,183.38 L498.77,184.11 L498.61,184.84 L498.45,185.57 L498.29,186.30 L498.14,187.03 L497.98,187.76 L497.82,188.49 L497.66,189.22 L497.50,189.95 L497.35,190.68 L497.19,191.41 L497.03,192.14 L496.88,192.87 L496.72,193.60 L496.56,194.33 L496.41,195.07 L496.25,195.80 L496.10,196.53 L495.94,197.26 L495.78,197.99 L495.63,198.72 L495.47,199.45 L495.31,200.18 L495.16,200.91 L495.00,201.64 L494.85,202.37 L494.69,203.10 L494.53,203.83 L494.38,204.56 L494.22,205.29 L494.06,206.02 L493.91,206.76 L493.75,207.49 L493.59,208.22 L493.44,208.95 L493.28,209.68 L493.12,210.41 L492.97,211.14 L492.81,211.87 L492.65,212.60 L492.49,213.33 L492.33,214.06 L492.18,214.79 L492.02,215.52 L491.86,216.25 L491.70,216.98 L491.54,217.71 L491.38,218.44 L491.22,219.17 L491.06,219.90 L490.90,220.63 L490.74,221.37 L490.58,222.10 L490.42,222.83 L490.25,223.56 L490.09,224.29 L489.93,225.02 L489.77,225.75 L489.60,226.48 L489.44,227.21 L489.27,227.94 L489.11,228.67 L488.94,229.40 L488.78,230.13 L488.61,230.86 L488.44,231.59 L488.28,232.32 L488.11,233.05 L487.94,233.78 L487.77,234.51 L487.60,235.23 L487.43,235.96 L487.26,236.69 L487.08,237.42 L486.91,238.15 L486.74,238.88 L486.56,239.61 L486.39,240.34 L486.21,241.07 L486.04,241.80 L485.86,242.53 L485.68,243.26 L485.50,243.99 L485.32,244.72 L485.14,245.44 L484.96,246.17 L484.78,246.90 L484.59,247.63 L484.41,248.36 L484.22,249.09 L484.03,249.82 L483.85,250.54 L483.66,251.27 L483.47,252.00 L483.28,252.73 L483.08,253.46 L482.89,254.19 L482.69,254.91 L482.50,255.64 L482.30,256.37 L482.10,257.10 L481.90,257.82 L481.70,258.55 L481.50,259.28 L481.29,260.00 L481.08,260.73 L480.88,261.46 L480.67,262.19 L480.46,262.91 L480.24,263.64 L480.03,264.37 L479.81,265.09 L479.59,265.82 L479.37,266.54 L479.15,267.27 L478.92,268.00 L478.70,268.72 L478.47,269.45 L478.24,270.17 L478.01,270.90 L477.77,271.62 L477.53,272.35 L477.29,273.07 L477.05,273.80 L476.81,274.52 L476.56,275.24 L476.31,275.97 L476.06,276.69 L475.80,277.41 L475.54,278.14 L475.28,278.86 L475.01,279.58 L474.75,280.31 L474.47,281.03 L474.20,281.75 L473.92,282.47 L473.64,283.19 L473.35,283.91 L473.06,284.64 L472.77,285.36 L472.47,286.08 L472.17,286.80 L471.86,287.52 L471.55,288.24 L471.24,288.96 L470.92,289.67 L470.59,290.39 L470.26,291.11 L469.93,291.83 L469.59,292.55 L469.24,293.26 L468.89,293.98 L468.53,294.69 L468.17,295.41 L467.80,296.13 L467.42,296.84 L467.03,297.55 L466.64,298.27 L466.24,298.98 L465.84,299.69 L465.42,300.40 L465.00,301.12 L464.57,301.83 L464.13,302.54 L463.68,303.25 L463.22,303.95 L462.75,304.66 L462.27,305.37 L461.78,306.07 L461.28,306.78 L460.77,307.48 L460.24,308.19 L459.70,308.89 L459.15,309.59 L458.58,310.29 L458.00,310.99 L457.41,311.69 L456.79,312.39 L456.17,313.08 L455.52,313.78 L454.86,314.47 L454.17,315.16 L453.47,315.85 L452.74,316.54 L452.00,317.23 L451.23,317.91 L450.43,318.60 L449.61,319.28 L448.76,319.96 L447.89,320.63 L446.98,321.31 L446.05,321.98 L445.07,322.65 L444.07,323.31 L443.02,323.98 L441.94,324.64 L440.82,325.30 L439.65,325.95 L438.43,326.60 L437.17,327.25 L435.85,327.89 L434.48,328.52 L433.04,329.16 L431.55,329.78 L429.99,330.40 L428.35,331.02 L426.64,331.63 L424.86,332.23 L422.98,332.82 L421.02,333.41 L418.96,333.99 L416.80,334.55 L414.53,335.11 L412.14,335.66 L409.64,336.19 L407.01,336.72 L404.24,337.23 L401.33,337.72 L398.27,338.20 L395.06,338.66 L391.69,339.10 L388.16,339.52 L384.45,339.92 L380.58,340.30 L376.53,340.65 L372.31,340.98 L367.93,341.28 L363.39,341.54 L358.69,341.78 L353.86,341.98 L348.91,342.15 L343.85,342.29 L338.72,342.39 L333.53,342.45 L328.31,342.47 L323.08,342.45 L317.88,342.40 L312.74,342.31 L307.66,342.18 L302.69,342.02 L297.83,341.82 L293.11,341.59 L288.54,341.33 L284.13,341.04 L279.88,340.72 L275.80,340.37 L271.89,340.00 L268.15,339.60 L264.59,339.18 L261.18,338.74 L257.94,338.29 L254.86,337.81 L251.92,337.32 L249.13,336.82 L246.47,336.30 L243.94,335.76 L241.54,335.22 L239.24,334.66 L237.06,334.10 L234.98,333.52 L233.00,332.94 L231.11,332.34 L229.31,331.74 L227.59,331.13 L225.94,330.52 L224.36,329.90 L222.86,329.28 L221.41,328.64 L220.03,328.01 L218.70,327.37 L217.42,326.72 L216.20,326.07 L215.02,325.42 L213.89,324.76 L212.80,324.10 L211.75,323.44 L210.73,322.77 L209.76,322.11 L208.81,321.43 L207.90,320.76 L207.02,320.08 L206.17,319.41 L205.34,318.72 L204.54,318.04 L203.77,317.36 L203.02,316.67 L202.29,315.98 L201.58,315.29 L200.89,314.60"/><path d="M566.15,103.51 L565.78,104.23 L565.41,104.94 L565.05,105.66 L564.69,106.37 L564.34,107.09 L564.00,107.81 L563.66,108.52 L563.33,109.24 L563.00,109.96 L562.68,110.68 L562.36,111.40 L562.05,112.12 L561.74,112.84 L561.44,113.56 L561.14,114.28 L560.84,115.00 L560.55,115.72 L560.26,116.44 L559.98,117.16 L559.70,117.88 L559.42,118.60 L559.15,119.33 L558.88,120.05 L558.61,120.77 L558.35,121.49 L558.09,122.22 L557.83,122.94 L557.58,123.66 L557.32,124.39 L557.07,125.11 L556.83,125.84 L556.58,126.56 L556.34,127.29 L556.10,128.01 L555.87,128.73 L555.63,129.46 L555.40,130.18 L555.17,130.91 L554.95,131.64 L554.72,132.36 L554.50,133.09 L554.28,133.81 L554.06,134.54 L553.84,135.27 L553.62,135.99 L553.41,136.72 L553.20,137.44 L552.99,138.17 L552.78,138.90 L552.57,139.63 L552.36,140.35 L552.16,141.08 L551.96,141.81 L551.76,142.53 L551.56,143.26 L551.36,143.99 L551.16,144.72 L550.96,145.44 L550.77,146.17 L550.58,146.90 L550.39,147.63 L550.19,148.36 L550.00,149.09 L549.82,149.81 L549.63,150.54 L549.44,151.27 L549.26,152.00 L549.07,152.73 L548.89,153.46 L548.71,154.19 L548.53,154.91 L548.35,155.64 L548.17,156.37 L547.99,157.10 L547.81,157.83 L547.63,158.56 L547.46,159.29 L547.28,160.02 L547.11,160.75 L546.93,161.48 L546.76,162.21 L546.59,162.94 L546.41,163.66 L546.24,164.39 L546.07,165.12 L545.90,165.85 L545.73,166.58 L545.57,167.31 L545.40,168.04 L545.23,168.77 L545.06,169.50 L544.90,170.23 L544.73,170.96 L544.57,171.69 L544.40,172.42 L544.24,173.15 L544.07,173.88 L543.91,174.61 L543.75,175.34 L543.58,176.07 L543.42,176.80 L543.26,177.53 L543.10,178.26 L542.94,178.99 L542.78,179.72 L542.62,180.45 L542.46,181.18 L542.30,181.92 L542.14,182.65 L541.98,183.38 L541.82,184.11 L541.66,184.84 L541.50,185.57 L541.34,186.30 L541.19,187.03 L541.03,187.76 L540.87,188.49 L540.71,189.22 L540.55,189.95 L540.40,190.68 L540.24,191.41 L540.08,192.14 L539.93,192.87 L539.77,193.60 L539.61,194.33 L539.46,195.07 L539.30,195.80 L539.15,196.53 L538.99,197.26 L538.83,197.99 L538.68,198.72 L538.52,199.45 L538.36,200.18 L538.21,200.91 L538.05,201.64 L537.90,202.37 L537.74,203.10 L537.58,203.83 L537.43,204.56 L537.27,205.29 L537.11,206.02 L536.96,206.76 L536.80,207.49 L536.64,208.22 L536.49,208.95 L536.33,209.68 L536.17,210.41 L536.02,211.14 L535.86,211.87 L535.70,212.60 L535.54,213.33 L535.38,214.06 L535.23,214.79 L535.07,215.52 L534.91,216.25 L534.75,216.98 L534.59,217.71 L534.43,218.44 L534.27,219.17 L534.11,219.90 L533.95,220.63 L533.79,221.37 L533.63,222.10 L533.47,222.83 L533.30,223.56 L533.14,224.29 L532.98,225.02 L532.82,225.75 L532.65,226.48 L532.49,227.21 L532.32,227.94 L532.16,228.67 L531.99,229.40 L531.83,230.13 L531.66,230.86 L531.49,231.59 L531.33,232.32 L531.16,233.05 L530.99,233.78 L530.82,234.51 L530.65,235.23 L530.48,235.96 L530.31,236.69 L530.13,237.42 L529.96,238.15 L529.79,238.88 L529.61,239.61 L529.44,240.34 L529.26,241.07 L529.09,241.80 L528.91,242.53 L528.73,243.26 L528.55,243.99 L528.37,244.72 L528.19,245.44 L528.01,246.17 L527.83,246.90 L527.64,247.63 L527.46,248.36 L527.27,249.09 L527.08,249.82 L526.90,250.54 L526.71,251.27 L526.52,252.00 L526.33,252.73 L526.13,253.46 L525.94,254.19 L525.74,254.91 L525.55,255.64 L525.35,256.37 L525.15,257.10 L524.95,257.82 L524.75,258.55 L524.55,259.28 L524.34,260.00 L524.13,260.73 L523.93,261.46 L523.72,262.19 L523.51,262.91 L523.29,263.64 L523.08,264.37 L522.86,265.09 L522.64,265.82 L522.42,266.54 L522.20,267.27 L521.97,268.00 L521.75,268.72 L521.52,269.45 L521.29,270.17 L521.06,270.90 L520.82,271.62 L520.58,272.35 L520.34,273.07 L520.10,273.80 L519.86,274.52 L519.61,275.24 L519.36,275.97 L519.11,276.69 L518.85,277.41 L518.59,278.14 L518.33,278.86 L518.06,279.58 L517.80,280.31 L517.52,281.03 L517.25,281.75 L516.97,282.47 L516.69,283.19 L516.40,283.91 L516.11,284.64 L515.82,285.36 L515.52,286.08 L515.22,286.80 L514.91,287.52 L514.60,288.24 L514.29,288.96 L513.97,289.67 L513.64,290.39 L513.31,291.11 L512.98,291.83 L512.64,292.55 L512.29,293.26 L511.94,293.98 L511.58,294.69 L511.22,295.41 L510.85,296.13 L510.47,296.84 L510.08,297.55 L509.69,298.27 L509.29,298.98 L508.89,299.69 L508.47,300.40 L508.05,301.12 L507.62,301.83 L507.18,302.54 L506.73,303.25 L506.27,303.95 L505.80,304.66 L505.32,305.37 L504.83,306.07 L504.33,306.78 L503.82,307.48 L503.29,308.19 L502.75,308.89 L502.20,309.59 L501.63,310.29 L501.05,310.99 L500.46,311.69 L499.84,312.39 L499.22,313.08 L498.57,313.78 L497.91,314.47 L497.22,315.16 L496.52,315.85 L495.79,316.54 L495.05,317.23 L494.28,317.91 L493.48,318.60 L492.66,319.28 L491.81,319.96 L490.94,320.63 L490.03,321.31 L489.10,321.98 L488.12,322.65 L487.12,323.31 L486.07,323.98 L484.99,324.64 L483.87,325.30 L482.70,325.95 L481.48,326.60 L480.22,327.25 L478.90,327.89 L477.53,328.52 L476.09,329.16 L474.60,329.78 L473.04,330.40 L471.40,331.02 L469.69,331.63 L467.91,332.23 L466.03,332.82 L464.07,333.41 L462.01,333.99 L459.85,334.55 L457.58,335.11 L455.19,335.66 L452.69,336.19 L450.06,336.72 L447.29,337.23 L444.38,337.72 L441.32,338.20 L438.11,338.66 L434.74,339.10 L431.21,339.52 L427.50,339.92 L423.63,340.30 L419.58,340.65 L415.36,340.98 L410.98,341.28 L406.44,341.54 L401.74,341.78 L396.91,341.98 L391.96,342.15 L386.90,342.29 L381.77,342.39 L376.58,342.45 L371.36,342.47 L366.13,342.45 L360.93,342.40 L355.79,342.31 L350.71,342.18 L345.74,342.02 L340.88,341.82 L336.16,341.59 L331.59,341.33 L327.18,341.04 L322.93,340.72 L318.85,340.37 L314.94,340.00 L311.20,339.60 L307.64,339.18 L304.23,338.74 L300.99,338.29 L297.91,337.81 L294.97,337.32 L292.18,336.82 L289.52,336.30 L286.99,335.76 L284.59,335.22 L282.29,334.66 L280.11,334.10 L278.03,333.52 L276.05,332.94 L274.16,332.34 L272.36,331.74 L270.64,331.13 L268.99,330.52 L267.41,329.90 L265.91,329.28 L264.46,328.64 L263.08,328.01 L261.75,327.37 L260.47,326.72 L259.25,326.07 L258.07,325.42 L256.94,324.76 L255.85,324.10 L254.80,323.44 L253.78,322.77 L252.81,322.11 L251.86,321.43 L250.95,320.76 L250.07,320.08 L249.22,319.41 L248.39,318.72 L247.59,318.04 L246.82,317.36 L246.07,316.67 L245.34,315.98 L244.63,315.29 L243.94,314.60"/><path d="M609.20,103.51 L608.83,104.23 L608.46,104.94 L608.10,105.66 L607.74,106.37 L607.39,107.09 L607.05,107.81 L606.71,108.52 L606.38,109.24 L606.05,109.96 L605.73,110.68 L605.41,111.40 L605.10,112.12 L604.79,112.84 L604.49,113.56 L604.19,114.28 L603.89,115.00 L603.60,115.72 L603.31,116.44 L603.03,117.16 L602.75,117.88 L602.47,118.60 L602.20,119.33 L601.93,120.05 L601.66,120.77 L601.40,121.49 L601.14,122.22 L600.88,122.94 L600.63,123.66 L600.37,124.39 L600.12,125.11 L599.88,125.84 L599.63,126.56 L599.39,127.29 L599.15,128.01 L598.92,128.73 L598.68,129.46 L598.45,130.18 L598.22,130.91 L598.00,131.64 L597.77,132.36 L597.55,133.09 L597.33,133.81 L597.11,134.54 L596.89,135.27 L596.67,135.99 L596.46,136.72 L596.25,137.44 L596.04,138.17 L595.83,138.90 L595.62,139.63 L595.41,140.35 L595.21,141.08 L595.01,141.81 L594.81,142.53 L594.61,143.26 L594.41,143.99 L594.21,144.72 L594.01,145.44 L593.82,146.17 L593.63,146.90 L593.44,147.63 L593.24,148.36 L593.05,149.09 L592.87,149.81 L592.68,150.54 L592.49,151.27 L592.31,152.00 L592.12,152.73 L591.94,153.46 L591.76,154.19 L591.58,154.91 L591.40,155.64 L591.22,156.37 L591.04,157.10 L590.86,157.83 L590.68,158.56 L590.51,159.29 L590.33,160.02 L590.16,160.75 L589.98,161.48 L589.81,162.21 L589.64,162.94 L589.46,163.66 L589.29,164.39 L589.12,165.12 L588.95,165.85 L588.78,166.58 L588.62,167.31 L588.45,168.04 L588.28,168.77 L588.11,169.50 L587.95,170.23 L587.78,170.96 L587.62,171.69 L587.45,172.42 L587.29,173.15 L587.12,173.88 L586.96,174.61 L586.80,175.34 L586.63,176.07 L586.47,176.80 L586.31,177.53 L586.15,178.26 L585.99,178.99 L585.83,179.72 L585.67,180.45 L585.51,181.18 L585.35,181.92 L585.19,182.65 L585.03,183.38 L584.87,184.11 L584.71,184.84 L584.55,185.57 L584.39,186.30 L584.24,187.03 L584.08,187.76 L583.92,188.49 L583.76,189.22 L583.60,189.95 L583.45,190.68 L583.29,191.41 L583.13,192.14 L582.98,192.87 L582.82,193.60 L582.66,194.33 L582.51,195.07 L582.35,195.80 L582.20,196.53 L582.04,197.26 L581.88,197.99 L581.73,198.72 L581.57,199.45 L581.41,200.18 L581.26,200.91 L581.10,201.64 L580.95,202.37 L580.79,203.10 L580.63,203.83 L580.48,204.56 L580.32,205.29 L580.16,206.02 L580.01,206.76 L579.85,207.49 L579.69,208.22 L579.54,208.95 L579.38,209.68 L579.22,210.41 L579.07,211.14 L578.91,211.87 L578.75,212.60 L578.59,213.33 L578.43,214.06 L578.28,214.79 L578.12,215.52 L577.96,216.25 L577.80,216.98 L577.64,217.71 L577.48,218.44 L577.32,219.17 L577.16,219.90 L577.00,220.63 L576.84,221.37 L576.68,222.10 L576.52,222.83 L576.35,223.56 L576.19,224.29 L576.03,225.02 L575.87,225.75 L575.70,226.48 L575.54,227.21 L575.37,227.94 L575.21,228.67 L575.04,229.40 L574.88,230.13 L574.71,230.86 L574.54,231.59 L574.38,232.32 L574.21,233.05 L574.04,233.78 L573.87,234.51 L573.70,235.23 L573.53,235.96 L573.36,236.69 L573.18,237.42 L573.01,238.15 L572.84,238.88 L572.66,239.61 L572.49,240.34 L572.31,241.07 L572.14,241.80 L571.96,242.53 L571.78,243.26 L571.60,243.99 L571.42,244.72 L571.24,245.44 L571.06,246.17 L570.88,246.90 L570.69,247.63 L570.51,248.36 L570.32,249.09 L570.13,249.82 L569.95,250.54 L569.76,251.27 L569.57,252.00 L569.38,252.73 L569.18,253.46 L568.99,254.19 L568.79,254.91 L568.60,255.64 L568.40,256.37 L568.20,257.10 L568.00,257.82 L567.80,258.55 L567.60,259.28 L567.39,260.00 L567.18,260.73 L566.98,261.46 L566.77,262.19 L566.56,262.91 L566.34,263.64 L566.13,264.37 L565.91,265.09 L565.69,265.82 L565.47,266.54 L565.25,267.27 L565.02,268.00 L564.80,268.72 L564.57,269.45 L564.34,270.17 L564.11,270.90 L563.87,271.62 L563.63,272.35 L563.39,273.07 L563.15,273.80 L562.91,274.52 L562.66,275.24 L562.41,275.97 L562.16,276.69 L561.90,277.41 L561.64,278.14 L561.38,278.86 L561.11,279.58 L560.85,280.31 L560.57,281.03 L560.30,281.75 L560.02,282.47 L559.74,283.19 L559.45,283.91 L559.16,284.64 L558.87,285.36 L558.57,286.08 L558.27,286.80 L557.96,287.52 L557.65,288.24 L557.34,288.96 L557.02,289.67 L556.69,290.39 L556.36,291.11 L556.03,291.83 L555.69,292.55 L555.34,293.26 L554.99,293.98 L554.63,294.69 L554.27,295.41 L553.90,296.13 L553.52,296.84 L553.13,297.55 L552.74,298.27 L552.34,298.98 L551.94,299.69 L551.52,300.40 L551.10,301.12 L550.67,301.83 L550.23,302.54 L549.78,303.25 L549.32,303.95 L548.85,304.66 L548.37,305.37 L547.88,306.07 L547.38,306.78 L546.87,307.48 L546.34,308.19 L545.80,308.89 L545.25,309.59 L544.68,310.29 L544.10,310.99 L543.51,311.69 L542.89,312.39 L542.27,313.08 L541.62,313.78 L540.96,314.47 L540.27,315.16 L539.57,315.85 L538.84,316.54 L538.10,317.23 L537.33,317.91 L536.53,318.60 L535.71,319.28 L534.86,319.96 L533.99,320.63 L533.08,321.31 L532.15,321.98 L531.17,322.65 L530.17,323.31 L529.12,323.98 L528.04,324.64 L526.92,325.30 L525.75,325.95 L524.53,326.60 L523.27,327.25 L521.95,327.89 L520.58,328.52 L519.14,329.16 L517.65,329.78 L516.09,330.40 L514.45,331.02 L512.74,331.63 L510.96,332.23 L509.08,332.82 L507.12,333.41 L505.06,333.99 L502.90,334.55 L500.63,335.11 L498.24,335.66 L495.74,336.19 L493.11,336.72 L490.34,337.23 L487.43,337.72 L484.37,338.20 L481.16,338.66 L477.79,339.10 L474.26,339.52 L470.55,339.92 L466.68,340.30 L462.63,340.65 L458.41,340.98 L454.03,341.28 L449.49,341.54 L444.79,341.78 L439.96,341.98 L435.01,342.15 L429.95,342.29 L424.82,342.39 L419.63,342.45 L414.41,342.47 L409.18,342.45 L403.98,342.40 L398.84,342.31 L393.76,342.18 L388.79,342.02 L383.93,341.82 L379.21,341.59 L374.64,341.33 L370.23,341.04 L365.98,340.72 L361.90,340.37 L357.99,340.00 L354.25,339.60 L350.69,339.18 L347.28,338.74 L344.04,338.29 L340.96,337.81 L338.02,337.32 L335.23,336.82 L332.57,336.30 L330.04,335.76 L327.64,335.22 L325.34,334.66 L323.16,334.10 L321.08,333.52 L319.10,332.94 L317.21,332.34 L315.41,331.74 L313.69,331.13 L312.04,330.52 L310.46,329.90 L308.96,329.28 L307.51,328.64 L306.13,328.01 L304.80,327.37 L303.52,326.72 L302.30,326.07 L301.12,325.42 L299.99,324.76 L298.90,324.10 L297.85,323.44 L296.83,322.77 L295.86,322.11 L294.91,321.43 L294.00,320.76 L293.12,320.08 L292.27,319.41 L291.44,318.72 L290.64,318.04 L289.87,317.36 L289.12,316.67 L288.39,315.98 L287.68,315.29 L286.99,314.60"/><path d="M652.25,103.51 L651.88,104.23 L651.51,104.94 L651.15,105.66 L650.79,106.37 L650.44,107.09 L650.10,107.81 L649.76,108.52 L649.43,109.24 L649.10,109.96 L648.78,110.68 L648.46,111.40 L648.15,112.12 L647.84,112.84 L647.54,113.56 L647.24,114.28 L646.94,115.00 L646.65,115.72 L646.36,116.44 L646.08,117.16 L645.80,117.88 L645.52,118.60 L645.25,119.33 L644.98,120.05 L644.71,120.77 L644.45,121.49 L644.19,122.22 L643.93,122.94 L643.68,123.66 L643.42,124.39 L643.17,125.11 L642.93,125.84 L642.68,126.56 L642.44,127.29 L642.20,128.01 L641.97,128.73 L641.73,129.46 L641.50,130.18 L641.27,130.91 L641.05,131.64 L640.82,132.36 L640.60,133.09 L640.38,133.81 L640.16,134.54 L639.94,135.27 L639.72,135.99 L639.51,136.72 L639.30,137.44 L639.09,138.17 L638.88,138.90 L638.67,139.63 L638.46,140.35 L638.26,141.08 L638.06,141.81 L637.86,142.53 L637.66,143.26 L637.46,143.99 L637.26,144.72 L637.06,145.44 L636.87,146.17 L636.68,146.90 L636.49,147.63 L636.29,148.36 L636.10,149.09 L635.92,149.81 L635.73,150.54 L635.54,151.27 L635.36,152.00 L635.17,152.73 L634.99,153.46 L634.81,154.19 L634.63,154.91 L634.45,155.64 L634.27,156.37 L634.09,157.10 L633.91,157.83 L633.73,158.56 L633.56,159.29 L633.38,160.02 L633.21,160.75 L633.03,161.48 L632.86,162.21 L632.69,162.94 L632.51,163.66 L632.34,164.39 L632.17,165.12 L632.00,165.85 L631.83,166.58 L631.67,167.31 L631.50,168.04 L631.33,168.77 L631.16,169.50 L631.00,170.23 L630.83,170.96 L630.67,171.69 L630.50,172.42 L630.34,173.15 L630.17,173.88 L630.01,174.61 L629.85,175.34 L629.68,176.07 L629.52,176.80 L629.36,177.53 L629.20,178.26 L629.04,178.99 L628.88,179.72 L628.72,180.45 L628.56,181.18 L628.40,181.92 L628.24,182.65 L628.08,183.38 L627.92,184.11 L627.76,184.84 L627.60,185.57 L627.44,186.30 L627.29,187.03 L627.13,187.76 L626.97,188.49 L626.81,189.22 L626.65,189.95 L626.50,190.68 L626.34,191.41 L626.18,192.14 L626.03,192.87 L625.87,193.60 L625.71,194.33 L625.56,195.07 L625.40,195.80 L625.25,196.53 L625.09,197.26 L624.93,197.99 L624.78,198.72 L624.62,199.45 L624.46,200.18 L624.31,200.91 L624.15,201.64 L624.00,202.37 L623.84,203.10 L623.68,203.83 L623.53,204.56 L623.37,205.29 L623.21,206.02 L623.06,206.76 L622.90,207.49 L622.74,208.22 L622.59,208.95 L622.43,209.68 L622.27,210.41 L622.12,211.14 L621.96,211.87 L621.80,212.60 L621.64,213.33 L621.48,214.06 L621.33,214.79 L621.17,215.52 L621.01,216.25 L620.85,216.98 L620.69,217.71 L620.53,218.44 L620.37,219.17 L620.21,219.90 L620.05,220.63 L619.89,221.37 L619.73,222.10 L619.57,222.83 L619.40,223.56 L619.24,224.29 L619.08,225.02 L618.92,225.75 L618.75,226.48 L618.59,227.21 L618.42,227.94 L618.26,228.67 L618.09,229.40 L617.93,230.13 L617.76,230.86 L617.59,231.59 L617.43,232.32 L617.26,233.05 L617.09,233.78 L616.92,234.51 L616.75,235.23 L616.58,235.96 L616.41,236.69 L616.23,237.42 L616.06,238.15 L615.89,238.88 L615.71,239.61 L615.54,240.34 L615.36,241.07 L615.19,241.80 L615.01,242.53 L614.83,243.26 L614.65,243.99 L614.47,244.72 L614.29,245.44 L614.11,246.17 L613.93,246.90 L613.74,247.63 L613.56,248.36 L613.37,249.09 L613.18,249.82 L613.00,250.54 L612.81,251.27 L612.62,252.00 L612.43,252.73 L612.23,253.46 L612.04,254.19 L611.84,254.91 L611.65,255.64 L611.45,256.37 L611.25,257.10 L611.05,257.82 L610.85,258.55 L610.65,259.28 L610.44,260.00 L610.23,260.73 L610.03,261.46 L609.82,262.19 L609.61,262.91 L609.39,263.64 L609.18,264.37 L608.96,265.09 L608.74,265.82 L608.52,266.54 L608.30,267.27 L608.07,268.00 L607.85,268.72 L607.62,269.45 L607.39,270.17 L607.16,270.90 L606.92,271.62 L606.68,272.35 L606.44,273.07 L606.20,273.80 L605.96,274.52 L605.71,275.24 L605.46,275.97 L605.21,276.69 L604.95,277.41 L604.69,278.14 L604.43,278.86 L604.16,279.58 L603.90,280.31 L603.62,281.03 L603.35,281.75 L603.07,282.47 L602.79,283.19 L602.50,283.91 L602.21,284.64 L601.92,285.36 L601.62,286.08 L601.32,286.80 L601.01,287.52 L600.70,288.24 L600.39,288.96 L600.07,289.67 L599.74,290.39 L599.41,291.11 L599.08,291.83 L598.74,292.55 L598.39,293.26 L598.04,293.98 L597.68,294.69 L597.32,295.41 L596.95,296.13 L596.57,296.84 L596.18,297.55 L595.79,298.27 L595.39,298.98 L594.99,299.69 L594.57,300.40 L594.15,301.12 L593.72,301.83 L593.28,302.54 L592.83,303.25 L592.37,303.95 L591.90,304.66 L591.42,305.37 L590.93,306.07 L590.43,306.78 L589.92,307.48 L589.39,308.19 L588.85,308.89 L588.30,309.59 L587.73,310.29 L587.15,310.99 L586.56,311.69 L585.94,312.39 L585.32,313.08 L584.67,313.78 L584.01,314.47 L583.32,315.16 L582.62,315.85 L581.89,316.54 L581.15,317.23 L580.38,317.91 L579.58,318.60 L578.76,319.28 L577.91,319.96 L577.04,320.63 L576.13,321.31 L575.20,321.98 L574.22,322.65 L573.22,323.31 L572.17,323.98 L571.09,324.64 L569.97,325.30 L568.80,325.95 L567.58,326.60 L566.32,327.25 L565.00,327.89 L563.63,328.52 L562.19,329.16 L560.70,329.78 L559.14,330.40 L557.50,331.02 L555.79,331.63 L554.01,332.23 L552.13,332.82 L550.17,333.41 L548.11,333.99 L545.95,334.55 L543.68,335.11 L541.29,335.66 L538.79,336.19 L536.16,336.72 L533.39,337.23 L530.48,337.72 L527.42,338.20 L524.21,338.66 L520.84,339.10 L517.31,339.52 L513.60,339.92 L509.73,340.30 L505.68,340.65 L501.46,340.98 L497.08,341.28 L492.54,341.54 L487.84,341.78 L483.01,341.98 L478.06,342.15 L473.00,342.29 L467.87,342.39 L462.68,342.45 L457.46,342.47 L452.23,342.45 L447.03,342.40 L441.89,342.31 L436.81,342.18 L431.84,342.02 L426.98,341.82 L422.26,341.59 L417.69,341.33 L413.28,341.04 L409.03,340.72 L404.95,340.37 L401.04,340.00 L397.30,339.60 L393.74,339.18 L390.33,338.74 L387.09,338.29 L384.01,337.81 L381.07,337.32 L378.28,336.82 L375.62,336.30 L373.09,335.76 L370.69,335.22 L368.39,334.66 L366.21,334.10 L364.13,333.52 L362.15,332.94 L360.26,332.34 L358.46,331.74 L356.74,331.13 L355.09,330.52 L353.51,329.90 L352.01,329.28 L350.56,328.64 L349.18,328.01 L347.85,327.37 L346.57,326.72 L345.35,326.07 L344.17,325.42 L343.04,324.76 L341.95,324.10 L340.90,323.44 L339.88,322.77 L338.91,322.11 L337.96,321.43 L337.05,320.76 L336.17,320.08 L335.32,319.41 L334.49,318.72 L333.69,318.04 L332.92,317.36 L332.17,316.67 L331.44,315.98 L330.73,315.29 L330.04,314.60"/><path d="M695.30,103.51 L694.93,104.23 L694.56,104.94 L694.20,105.66 L693.84,106.37 L693.49,107.09 L693.15,107.81 L692.81,108.52 L692.48,109.24 L692.15,109.96 L691.83,110.68 L691.51,111.40 L691.20,112.12 L690.89,112.84 L690.59,113.56 L690.29,114.28 L689.99,115.00 L689.70,115.72 L689.41,116.44 L689.13,117.16 L688.85,117.88 L688.57,118.60 L688.30,119.33 L688.03,120.05 L687.76,120.77 L687.50,121.49 L687.24,122.22 L686.98,122.94 L686.73,123.66 L686.47,124.39 L686.22,125.11 L685.98,125.84 L685.73,126.56 L685.49,127.29 L685.25,128.01 L685.02,128.73 L684.78,129.46 L684.55,130.18 L684.32,130.91 L684.10,131.64 L683.87,132.36 L683.65,133.09 L683.43,133.81 L683.21,134.54 L682.99,135.27 L682.77,135.99 L682.56,136.72 L682.35,137.44 L682.14,138.17 L681.93,138.90 L681.72,139.63 L681.51,140.35 L681.31,141.08 L681.11,141.81 L680.91,142.53 L680.71,143.26 L680.51,143.99 L680.31,144.72 L680.11,145.44 L679.92,146.17 L679.73,146.90 L679.54,147.63 L679.34,148.36 L679.15,149.09 L678.97,149.81 L678.78,150.54 L678.59,151.27 L678.41,152.00 L678.22,152.73 L678.04,153.46 L677.86,154.19 L677.68,154.91 L677.50,155.64 L677.32,156.37 L677.14,157.10 L676.96,157.83 L676.78,158.56 L676.61,159.29 L676.43,160.02 L676.26,160.75 L676.08,161.48 L675.91,162.21 L675.74,162.94 L675.56,163.66 L675.39,164.39 L675.22,165.12 L675.05,165.85 L674.88,166.58 L674.72,167.31 L674.55,168.04 L674.38,168.77 L674.21,169.50 L674.05,170.23 L673.88,170.96 L673.72,171.69 L673.55,172.42 L673.39,173.15 L673.22,173.88 L673.06,174.61 L672.90,175.34 L672.73,176.07 L672.57,176.80 L672.41,177.53 L672.25,178.26 L672.09,178.99 L671.93,179.72 L671.77,180.45 L671.61,181.18 L671.45,181.92 L671.29,182.65 L671.13,183.38 L670.97,184.11 L670.81,184.84 L670.65,185.57 L670.49,186.30 L670.34,187.03 L670.18,187.76 L670.02,188.49 L669.86,189.22 L669.70,189.95 L669.55,190.68 L669.39,191.41 L669.23,192.14 L669.08,192.87 L668.92,193.60 L668.76,194.33 L668.61,195.07 L668.45,195.80 L668.30,196.53 L668.14,197.26 L667.98,197.99 L667.83,198.72 L667.67,199.45 L667.51,200.18 L667.36,200.91 L667.20,201.64 L667.05,202.37 L666.89,203.10 L666.73,203.83 L666.58,204.56 L666.42,205.29 L666.26,206.02 L666.11,206.76 L665.95,207.49 L665.79,208.22 L665.64,208.95 L665.48,209.68 L665.32,210.41 L665.17,211.14 L665.01,211.87 L664.85,212.60 L664.69,213.33 L664.53,214.06 L664.38,214.79 L664.22,215.52 L664.06,216.25 L663.90,216.98 L663.74,217.71 L663.58,218.44 L663.42,219.17 L663.26,219.90 L663.10,220.63 L662.94,221.37 L662.78,222.10 L662.62,222.83 L662.45,223.56 L662.29,224.29 L662.13,225.02 L661.97,225.75 L661.80,226.48 L661.64,227.21 L661.47,227.94 L661.31,228.67 L661.14,229.40 L660.98,230.13 L660.81,230.86 L660.64,231.59 L660.48,232.32 L660.31,233.05 L660.14,233.78 L659.97,234.51 L659.80,235.23 L659.63,235.96 L659.46,236.69 L659.28,237.42 L659.11,238.15 L658.94,238.88 L658.76,239.61 L658.59,240.34 L658.41,241.07 L658.24,241.80 L658.06,242.53 L657.88,243.26 L657.70,243.99 L657.52,244.72 L657.34,245.44 L657.16,246.17 L656.98,246.90 L656.79,247.63 L656.61,248.36 L656.42,249.09 L656.23,249.82 L656.05,250.54 L655.86,251.27 L655.67,252.00 L655.48,252.73 L655.28,253.46 L655.09,254.19 L654.89,254.91 L654.70,255.64 L654.50,256.37 L654.30,257.10 L654.10,257.82 L653.90,258.55 L653.70,259.28 L653.49,260.00 L653.28,260.73 L653.08,261.46 L652.87,262.19 L652.66,262.91 L652.44,263.64 L652.23,264.37 L652.01,265.09 L651.79,265.82 L651.57,266.54 L651.35,267.27 L651.12,268.00 L650.90,268.72 L650.67,269.45 L650.44,270.17 L650.21,270.90 L649.97,271.62 L649.73,272.35 L649.49,273.07 L649.25,273.80 L649.01,274.52 L648.76,275.24 L648.51,275.97 L648.26,276.69 L648.00,277.41 L647.74,278.14 L647.48,278.86 L647.21,279.58 L646.95,280.31 L646.67,281.03 L646.40,281.75 L646.12,282.47 L645.84,283.19 L645.55,283.91 L645.26,284.64 L644.97,285.36 L644.67,286.08 L644.37,286.80 L644.06,287.52 L643.75,288.24 L643.44,288.96 L643.12,289.67 L642.79,290.39 L642.46,291.11 L642.13,291.83 L641.79,292.55 L641.44,293.26 L641.09,293.98 L640.73,294.69 L640.37,295.41 L640.00,296.13 L639.62,296.84 L639.23,297.55 L638.84,298.27 L638.44,298.98 L638.04,299.69 L637.62,300.40 L637.20,301.12 L636.77,301.83 L636.33,302.54 L635.88,303.25 L635.42,303.95 L634.95,304.66 L634.47,305.37 L633.98,306.07 L633.48,306.78 L632.97,307.48 L632.44,308.19 L631.90,308.89 L631.35,309.59 L630.78,310.29 L630.20,310.99 L629.61,311.69 L628.99,312.39 L628.37,313.08 L627.72,313.78 L627.06,314.47 L626.37,315.16 L625.67,315.85 L624.94,316.54 L624.20,317.23 L623.43,317.91 L622.63,318.60 L621.81,319.28 L620.96,319.96 L620.09,320.63 L619.18,321.31 L618.25,321.98 L617.27,322.65 L616.27,323.31 L615.22,323.98 L614.14,324.64 L613.02,325.30 L611.85,325.95 L610.63,326.60 L609.37,327.25 L608.05,327.89 L606.68,328.52 L605.24,329.16 L603.75,329.78 L602.19,330.40 L600.55,331.02 L598.84,331.63 L597.06,332.23 L595.18,332.82 L593.22,333.41 L591.16,333.99 L589.00,334.55 L586.73,335.11 L584.34,335.66 L581.84,336.19 L579.21,336.72 L576.44,337.23 L573.53,337.72 L570.47,338.20 L567.26,338.66 L563.89,339.10 L560.36,339.52 L556.65,339.92 L552.78,340.30 L548.73,340.65 L544.51,340.98 L540.13,341.28 L535.59,341.54 L530.89,341.78 L526.06,341.98 L521.11,342.15 L516.05,342.29 L510.92,342.39 L505.73,342.45 L500.51,342.47 L495.28,342.45 L490.08,342.40 L484.94,342.31 L479.86,342.18 L474.89,342.02 L470.03,341.82 L465.31,341.59 L460.74,341.33 L456.33,341.04 L452.08,340.72 L448.00,340.37 L444.09,340.00 L440.35,339.60 L436.79,339.18 L433.38,338.74 L430.14,338.29 L427.06,337.81 L424.12,337.32 L421.33,336.82 L418.67,336.30 L416.14,335.76 L413.74,335.22 L411.44,334.66 L409.26,334.10 L407.18,333.52 L405.20,332.94 L403.31,332.34 L401.51,331.74 L399.79,331.13 L398.14,330.52 L396.56,329.90 L395.06,329.28 L393.61,328.64 L392.23,328.01 L390.90,327.37 L389.62,326.72 L388.40,326.07 L387.22,325.42 L386.09,324.76 L385.00,324.10 L383.95,323.44 L382.93,322.77 L381.96,322.11 L381.01,321.43 L380.10,320.76 L379.22,320.08 L378.37,319.41 L377.54,318.72 L376.74,318.04 L375.97,317.36 L375.22,316.67 L374.49,315.98 L373.78,315.29 L373.09,314.60"/></g>
<rect x="80" y="40" width="640" height="319.8" fill="none" stroke="#7a7a7a" stroke-width="2"/>
<g font-size="14.5" style="filter:grayscale(1)"><text x="74.5" y="47.45" text-anchor="end">90</text><text x="74.5" y="99.70" text-anchor="end">60</text><text x="74.5" y="151.95" text-anchor="end">30</text><text x="74.5" y="204.20" text-anchor="end">0</text><text x="74.5" y="256.45" text-anchor="end">-30</text><text x="74.5" y="308.70" text-anchor="end">-60</text><text x="74.5" y="360.95" text-anchor="end">-90</text><text x="86.20" y="368.8" text-anchor="middle">-180</text><text x="164.57" y="368.8" text-anchor="middle">-135</text><text x="242.95" y="368.8" text-anchor="middle">-90</text><text x="321.32" y="368.8" text-anchor="middle">-45</text><text x="399.70" y="368.8" text-anchor="middle">0</text><text x="478.07" y="368.8" text-anchor="middle">45</text><text x="556.45" y="368.8" text-anchor="middle">90</text><text x="634.83" y="368.8" text-anchor="middle">135</text><text x="713.20" y="368.8" text-anchor="middle">180</text></g>
<g font-size="14.8" style="filter:grayscale(1)"><text x="174.3" y="32" font-size="15">2012-06-25</text><text x="268" y="32">Version: 5.00</text><text x="366.3" y="32">Standard</text><text x="446.4" y="32" font-size="14.55">Nighttime Orbit Locations</text></g>
</svg>
</body></html>
